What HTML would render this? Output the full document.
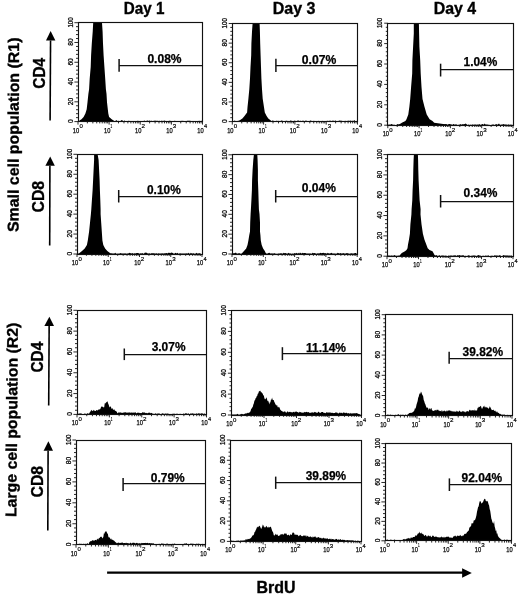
<!DOCTYPE html>
<html><head><meta charset="utf-8"><style>
html,body{margin:0;padding:0;background:#fff;}
svg{display:block;will-change:transform;}
text{font-family:"Liberation Sans",sans-serif;fill:#000;}
.hd,.cd,.pop{font-size:16px;font-weight:bold;stroke:#000;stroke-width:0.35;}
.pop{font-size:15.5px;}
.pct{font-size:12px;font-weight:bold;stroke:#000;stroke-width:0.25;}
.yl{font-size:6.3px;fill:#000;stroke:#000;stroke-width:0.25;}
.xl{font-size:7.2px;fill:#000;stroke:#000;stroke-width:0.25;}
.xs{font-size:6px;fill:#000;stroke:#000;stroke-width:0.2;}
.box{fill:none;stroke:#111;stroke-width:1.15;}
.base{fill:none;stroke:#000;stroke-width:0.6;}
.tk{fill:none;stroke:#111;stroke-width:0.9;}
.gate{fill:none;stroke:#111;stroke-width:1.25;}
.gtk{fill:none;stroke:#111;stroke-width:1.5;}
.h{fill:#000;stroke:none;}
.ar{stroke:#000;stroke-width:1.6;fill:none;}
.ar2{stroke:#000;stroke-width:2.2;fill:none;}
.ah{fill:#000;}
</style></head><body>
<svg width="520" height="597" viewBox="0 0 520 597">
<polygon class="h" points="79.00,121.60 79.00,121.60 79.50,120.60 81.50,119.20 83.60,117.00 85.40,113.50 86.70,109.20 87.50,102.30 88.40,93.70 89.10,89.20 89.70,78.60 90.70,66.90 91.10,55.20 91.80,43.40 92.70,31.70 93.20,22.70 102.00,22.70 102.60,31.70 103.00,43.40 103.60,55.20 104.40,66.90 105.20,78.60 105.90,89.20 106.50,93.70 107.00,102.30 107.80,109.20 108.30,113.50 109.10,117.00 111.70,119.20 113.50,120.60 114.00,121.60 114.00,121.60"/>
<polygon class="h" points="78.50,121.60 78.50,120.90 79.40,121.30 80.30,121.10 81.20,121.30 82.10,120.70 83.00,121.20 83.90,120.70 84.80,121.20 85.70,121.10 86.60,121.30 87.50,121.20 88.40,120.70 89.30,120.90 90.20,120.90 91.10,120.40 92.00,120.90 92.90,120.70 93.80,121.10 94.70,120.70 95.60,121.20 96.50,120.80 97.40,120.80 98.30,120.70 99.20,120.70 100.10,120.40 101.00,121.00 101.90,120.40 102.80,121.10 103.70,121.20 104.60,121.00 105.50,120.80 106.40,121.10 107.30,121.00 108.20,121.00 109.10,120.80 110.00,121.10 110.90,120.80 111.80,121.10 112.70,120.40 113.60,120.80 114.50,121.20 115.40,121.00 116.30,120.00 117.20,121.10 118.10,120.70 119.00,120.90 119.90,121.20 120.80,120.80 121.70,120.00 122.60,120.40 123.50,121.20 124.40,120.40 125.30,121.00 126.20,121.20 127.10,120.90 128.00,120.90 128.90,120.70 129.80,120.90 130.70,121.30 131.60,121.00 132.50,121.00 133.40,121.30 134.30,121.20 135.20,121.20 136.10,121.20 137.00,121.10 137.90,120.80 138.80,121.00 139.70,121.10 140.60,120.90 141.50,121.00 142.40,121.10 143.30,121.20 144.20,120.40 145.10,121.00 146.00,121.10 146.90,120.80 147.80,120.40 148.70,121.10 149.60,120.40 150.50,120.90 151.40,120.70 152.30,121.00 153.20,121.30 154.10,120.40 155.00,121.10 155.90,120.40 156.80,120.90 157.70,120.70 158.60,121.00 159.50,120.70 160.40,121.20 161.30,120.70 162.20,120.80 163.10,121.30 164.00,120.40 164.90,120.70 165.80,121.00 166.70,121.00 167.60,121.00 168.50,121.10 169.40,120.70 170.30,120.80 171.20,121.30 172.10,121.00 173.00,121.10 173.90,121.10 174.80,120.70 175.70,120.90 176.60,121.00 177.50,121.20 178.40,121.10 179.30,120.90 180.20,121.30 181.10,120.80 182.00,120.90 182.90,120.80 183.80,121.00 184.70,120.90 185.60,121.10 186.50,120.90 187.40,120.70 188.30,120.70 189.20,120.70 190.10,120.70 191.00,121.00 191.90,121.20 192.80,121.30 193.70,121.00 194.60,121.20 195.50,120.90 196.40,121.30 197.30,120.90 198.20,120.90 199.10,120.80 200.00,121.10 200.90,121.00 201.80,120.80 202.00,121.60"/>
<rect class="box" x="78.50" y="22.50" width="124.00" height="99.00"/>
<path class="tk" d="M74.40 121.60H78.00M76.00 117.64H78.00M76.00 113.69H78.00M76.00 109.73H78.00M76.00 105.78H78.00M74.40 101.82H78.00M76.00 97.86H78.00M76.00 93.91H78.00M76.00 89.95H78.00M76.00 86.00H78.00M74.40 82.04H78.00M76.00 78.08H78.00M76.00 74.13H78.00M76.00 70.17H78.00M76.00 66.22H78.00M74.40 62.26H78.00M76.00 58.30H78.00M76.00 54.35H78.00M76.00 50.39H78.00M76.00 46.44H78.00M74.40 42.48H78.00M76.00 38.52H78.00M76.00 34.57H78.00M76.00 30.61H78.00M76.00 26.66H78.00M74.40 22.70H78.00M78.00 121.60V124.60M87.37 121.60V123.40M92.85 121.60V123.40M96.74 121.60V123.40M99.76 121.60V123.40M102.22 121.60V123.40M104.30 121.60V123.40M106.11 121.60V123.40M107.70 121.60V123.40M109.12 121.60V124.60M118.49 121.60V123.40M123.98 121.60V123.40M127.86 121.60V123.40M130.88 121.60V123.40M133.34 121.60V123.40M135.43 121.60V123.40M137.23 121.60V123.40M138.83 121.60V123.40M140.25 121.60V124.60M149.62 121.60V123.40M155.10 121.60V123.40M158.99 121.60V123.40M162.01 121.60V123.40M164.47 121.60V123.40M166.55 121.60V123.40M168.36 121.60V123.40M169.95 121.60V123.40M171.38 121.60V124.60M180.74 121.60V123.40M186.23 121.60V123.40M190.11 121.60V123.40M193.13 121.60V123.40M195.59 121.60V123.40M197.68 121.60V123.40M199.48 121.60V123.40M201.08 121.60V123.40M202.50 121.60V124.60"/>
<text class="yl" transform="translate(72.50 123.07) rotate(-90.00)" textLength="3.71" lengthAdjust="spacingAndGlyphs">0</text><text class="yl" transform="translate(72.50 105.15) rotate(-90.00)" textLength="7.42" lengthAdjust="spacingAndGlyphs">20</text><text class="yl" transform="translate(72.50 85.17) rotate(-90.00)" textLength="7.20" lengthAdjust="spacingAndGlyphs">40</text><text class="yl" transform="translate(72.50 65.59) rotate(-90.00)" textLength="7.42" lengthAdjust="spacingAndGlyphs">60</text><text class="yl" transform="translate(72.50 45.74) rotate(-90.00)" textLength="7.34" lengthAdjust="spacingAndGlyphs">80</text><text class="yl" transform="translate(72.50 27.60) rotate(-90.00)" textLength="10.33" lengthAdjust="spacingAndGlyphs">100</text>
<text class="xl" x="72.84" y="132.60" textLength="6.40" lengthAdjust="spacingAndGlyphs">10</text><text class="xs" x="79.46" y="128.20" textLength="3.36" lengthAdjust="spacingAndGlyphs">0</text><text class="xl" x="103.96" y="132.60" textLength="6.40" lengthAdjust="spacingAndGlyphs">10</text><text class="xs" x="110.58" y="128.20" textLength="1.68" lengthAdjust="spacingAndGlyphs">1</text><text class="xl" x="135.09" y="132.60" textLength="6.40" lengthAdjust="spacingAndGlyphs">10</text><text class="xs" x="141.63" y="128.20" textLength="3.51" lengthAdjust="spacingAndGlyphs">2</text><text class="xl" x="166.21" y="132.60" textLength="6.40" lengthAdjust="spacingAndGlyphs">10</text><text class="xs" x="172.83" y="128.20" textLength="3.43" lengthAdjust="spacingAndGlyphs">3</text><text class="xl" x="197.34" y="132.60" textLength="6.40" lengthAdjust="spacingAndGlyphs">10</text><text class="xs" x="204.09" y="128.20" textLength="3.16" lengthAdjust="spacingAndGlyphs">4</text>
<path class="gate" d="M119.10 65.50H202.50"/><path class="gtk" d="M119.10 59.00V71.70"/>
<polygon class="h" points="238.00,121.60 238.00,121.60 239.80,120.30 242.40,118.50 244.50,116.00 247.10,112.50 247.50,107.30 248.40,98.70 249.30,89.20 250.00,78.60 250.50,66.90 251.20,55.20 251.40,43.40 252.00,31.70 252.60,23.50 259.60,23.50 259.90,31.70 260.20,43.40 260.60,55.20 261.00,66.90 261.40,78.60 262.00,89.20 262.70,98.70 264.00,107.30 264.80,112.50 266.60,116.00 268.30,118.50 270.50,120.30 272.00,121.60 272.00,121.60"/>
<polygon class="h" points="232.80,121.60 232.80,121.10 233.70,121.30 234.60,120.40 235.50,121.10 236.40,121.30 237.30,121.10 238.20,120.70 239.10,120.80 240.00,120.80 240.90,120.70 241.80,120.40 242.70,120.70 243.60,120.90 244.50,121.20 245.40,121.10 246.30,121.20 247.20,120.40 248.10,120.90 249.00,121.00 249.90,120.90 250.80,120.70 251.70,121.10 252.60,120.80 253.50,120.70 254.40,121.20 255.30,121.20 256.20,120.70 257.10,121.10 258.00,121.30 258.90,120.80 259.80,121.30 260.70,120.40 261.60,121.10 262.50,120.70 263.40,121.10 264.30,120.40 265.20,120.90 266.10,120.90 267.00,120.40 267.90,120.80 268.80,121.10 269.70,120.90 270.60,121.10 271.50,121.30 272.40,120.40 273.30,120.70 274.20,121.10 275.10,121.00 276.00,121.20 276.90,120.40 277.80,121.30 278.70,120.70 279.60,120.90 280.50,120.90 281.40,120.40 282.30,120.70 283.20,120.90 284.10,121.30 285.00,121.30 285.90,120.70 286.80,120.70 287.70,121.10 288.60,121.20 289.50,121.20 290.40,120.40 291.30,120.70 292.20,120.90 293.10,121.00 294.00,120.90 294.90,120.40 295.80,121.30 296.70,121.20 297.60,120.40 298.50,120.40 299.40,120.90 300.30,120.80 301.20,121.00 302.10,121.00 303.00,120.40 303.90,120.90 304.80,121.20 305.70,120.40 306.60,120.70 307.50,121.30 308.40,121.10 309.30,121.30 310.20,120.40 311.10,120.70 312.00,120.90 312.90,121.20 313.80,120.80 314.70,120.90 315.60,121.20 316.50,120.90 317.40,121.30 318.30,120.70 319.20,121.30 320.10,121.00 321.00,121.20 321.90,121.30 322.80,120.70 323.70,121.30 324.60,121.10 325.50,121.10 326.40,121.10 327.30,120.80 328.20,121.10 329.10,120.70 330.00,120.70 330.90,120.80 331.80,121.20 332.70,120.40 333.60,120.70 334.50,120.90 335.40,120.40 336.30,120.90 337.20,121.30 338.10,121.10 339.00,120.80 339.90,120.40 340.80,120.80 341.70,120.70 342.60,121.10 343.50,121.30 344.40,121.10 345.30,120.80 346.20,121.20 347.10,120.70 348.00,121.10 348.90,120.40 349.80,120.90 350.70,120.40 351.60,121.00 352.50,120.80 353.40,120.90 354.30,120.00 355.20,121.20 356.10,120.90 357.00,121.20 357.00,121.60"/>
<rect class="box" x="232.50" y="23.50" width="125.00" height="98.00"/>
<path class="tk" d="M228.70 121.60H232.30M230.30 117.68H232.30M230.30 113.75H232.30M230.30 109.83H232.30M230.30 105.90H232.30M228.70 101.98H232.30M230.30 98.06H232.30M230.30 94.13H232.30M230.30 90.21H232.30M230.30 86.28H232.30M228.70 82.36H232.30M230.30 78.44H232.30M230.30 74.51H232.30M230.30 70.59H232.30M230.30 66.66H232.30M228.70 62.74H232.30M230.30 58.82H232.30M230.30 54.89H232.30M230.30 50.97H232.30M230.30 47.04H232.30M228.70 43.12H232.30M230.30 39.20H232.30M230.30 35.27H232.30M230.30 31.35H232.30M230.30 27.42H232.30M228.70 23.50H232.30M232.30 121.60V124.60M241.72 121.60V123.40M247.23 121.60V123.40M251.14 121.60V123.40M254.18 121.60V123.40M256.66 121.60V123.40M258.75 121.60V123.40M260.57 121.60V123.40M262.17 121.60V123.40M263.60 121.60V124.60M273.02 121.60V123.40M278.53 121.60V123.40M282.44 121.60V123.40M285.48 121.60V123.40M287.96 121.60V123.40M290.05 121.60V123.40M291.87 121.60V123.40M293.47 121.60V123.40M294.90 121.60V124.60M304.32 121.60V123.40M309.83 121.60V123.40M313.74 121.60V123.40M316.78 121.60V123.40M319.26 121.60V123.40M321.35 121.60V123.40M323.17 121.60V123.40M324.77 121.60V123.40M326.20 121.60V124.60M335.62 121.60V123.40M341.13 121.60V123.40M345.04 121.60V123.40M348.08 121.60V123.40M350.56 121.60V123.40M352.65 121.60V123.40M354.47 121.60V123.40M356.07 121.60V123.40M357.50 121.60V124.60"/>
<text class="yl" transform="translate(226.80 123.07) rotate(-90.00)" textLength="3.71" lengthAdjust="spacingAndGlyphs">0</text><text class="yl" transform="translate(226.80 105.31) rotate(-90.00)" textLength="7.42" lengthAdjust="spacingAndGlyphs">20</text><text class="yl" transform="translate(226.80 85.49) rotate(-90.00)" textLength="7.20" lengthAdjust="spacingAndGlyphs">40</text><text class="yl" transform="translate(226.80 66.07) rotate(-90.00)" textLength="7.42" lengthAdjust="spacingAndGlyphs">60</text><text class="yl" transform="translate(226.80 46.38) rotate(-90.00)" textLength="7.34" lengthAdjust="spacingAndGlyphs">80</text><text class="yl" transform="translate(226.80 28.40) rotate(-90.00)" textLength="10.33" lengthAdjust="spacingAndGlyphs">100</text>
<text class="xl" x="227.14" y="132.60" textLength="6.40" lengthAdjust="spacingAndGlyphs">10</text><text class="xs" x="233.76" y="128.20" textLength="3.36" lengthAdjust="spacingAndGlyphs">0</text><text class="xl" x="258.44" y="132.60" textLength="6.40" lengthAdjust="spacingAndGlyphs">10</text><text class="xs" x="265.06" y="128.20" textLength="1.68" lengthAdjust="spacingAndGlyphs">1</text><text class="xl" x="289.74" y="132.60" textLength="6.40" lengthAdjust="spacingAndGlyphs">10</text><text class="xs" x="296.28" y="128.20" textLength="3.51" lengthAdjust="spacingAndGlyphs">2</text><text class="xl" x="321.04" y="132.60" textLength="6.40" lengthAdjust="spacingAndGlyphs">10</text><text class="xs" x="327.65" y="128.20" textLength="3.43" lengthAdjust="spacingAndGlyphs">3</text><text class="xl" x="352.34" y="132.60" textLength="6.40" lengthAdjust="spacingAndGlyphs">10</text><text class="xs" x="359.09" y="128.20" textLength="3.16" lengthAdjust="spacingAndGlyphs">4</text>
<path class="gate" d="M275.90 65.50H357.50"/><path class="gtk" d="M275.90 58.75V72.00"/>
<polygon class="h" points="399.00,125.20 399.00,125.20 399.50,124.20 401.90,122.70 405.40,121.00 406.50,119.20 408.30,114.60 409.40,106.50 410.20,99.10 411.10,87.00 412.20,73.60 412.40,60.20 413.10,46.80 413.80,33.40 413.80,23.20 418.90,23.20 419.10,33.40 419.40,46.80 420.20,60.20 420.70,73.60 421.50,87.00 422.50,99.10 424.40,106.50 426.70,114.60 429.60,119.20 432.50,121.00 434.20,122.70 445.00,124.20 450.00,125.20 450.00,125.20"/>
<polygon class="h" points="388.30,125.20 388.30,124.60 389.20,124.60 390.10,124.70 391.00,124.30 391.90,124.00 392.80,124.70 393.70,124.70 394.60,124.80 395.50,124.90 396.40,124.90 397.30,124.00 398.20,124.50 399.10,124.00 400.00,124.60 400.90,124.60 401.80,124.80 402.70,124.80 403.60,124.30 404.50,124.90 405.40,124.80 406.30,124.50 407.20,124.00 408.10,124.50 409.00,124.80 409.90,124.00 410.80,124.00 411.70,124.30 412.60,124.80 413.50,124.50 414.40,123.60 415.30,124.40 416.20,124.40 417.10,124.30 418.00,124.50 418.90,124.70 419.80,124.60 420.70,124.30 421.60,124.80 422.50,124.30 423.40,124.60 424.30,124.40 425.20,124.60 426.10,124.30 427.00,124.30 427.90,124.40 428.80,124.00 429.70,124.90 430.60,124.80 431.50,124.40 432.40,124.40 433.30,124.80 434.20,124.40 435.10,124.30 436.00,124.30 436.90,124.70 437.80,124.40 438.70,124.90 439.60,124.50 440.50,124.90 441.40,124.00 442.30,124.00 443.20,124.80 444.10,124.70 445.00,124.00 445.90,124.30 446.80,124.30 447.70,124.90 448.60,124.00 449.50,124.00 450.40,124.30 451.30,124.30 452.20,124.90 453.10,124.00 454.00,124.30 454.90,124.80 455.80,124.30 456.70,124.60 457.60,124.90 458.50,124.80 459.40,124.80 460.30,124.00 461.20,124.70 462.10,124.30 463.00,124.30 463.90,124.30 464.80,124.00 465.70,123.60 466.60,124.30 467.50,124.90 468.40,124.50 469.30,124.90 470.20,124.50 471.10,124.90 472.00,124.40 472.90,124.60 473.80,124.70 474.70,124.60 475.60,124.40 476.50,124.80 477.40,124.60 478.30,124.70 479.20,124.00 480.10,124.80 481.00,124.70 481.90,124.30 482.80,124.00 483.70,124.80 484.60,123.60 485.50,124.40 486.40,124.60 487.30,124.40 488.20,124.80 489.10,124.80 490.00,124.90 490.90,124.90 491.80,124.70 492.70,124.60 493.60,124.60 494.50,124.90 495.40,124.60 496.30,124.00 497.20,124.70 498.10,124.30 499.00,123.60 499.90,124.80 500.80,124.80 501.70,124.50 502.60,124.50 503.50,124.00 504.40,124.50 505.30,124.60 506.20,124.40 507.10,124.70 508.00,124.80 508.90,124.30 509.80,124.90 510.70,124.60 511.60,124.80 512.50,124.70 512.50,125.20"/>
<rect class="box" x="387.50" y="23.50" width="126.00" height="102.00"/>
<path class="tk" d="M384.20 125.20H387.80M385.80 121.12H387.80M385.80 117.04H387.80M385.80 112.96H387.80M385.80 108.88H387.80M384.20 104.80H387.80M385.80 100.72H387.80M385.80 96.64H387.80M385.80 92.56H387.80M385.80 88.48H387.80M384.20 84.40H387.80M385.80 80.32H387.80M385.80 76.24H387.80M385.80 72.16H387.80M385.80 68.08H387.80M384.20 64.00H387.80M385.80 59.92H387.80M385.80 55.84H387.80M385.80 51.76H387.80M385.80 47.68H387.80M384.20 43.60H387.80M385.80 39.52H387.80M385.80 35.44H387.80M385.80 31.36H387.80M385.80 27.28H387.80M384.20 23.20H387.80M387.80 125.20V128.20M397.22 125.20V127.00M402.73 125.20V127.00M406.64 125.20V127.00M409.68 125.20V127.00M412.16 125.20V127.00M414.25 125.20V127.00M416.07 125.20V127.00M417.67 125.20V127.00M419.10 125.20V128.20M428.52 125.20V127.00M434.03 125.20V127.00M437.94 125.20V127.00M440.98 125.20V127.00M443.46 125.20V127.00M445.55 125.20V127.00M447.37 125.20V127.00M448.97 125.20V127.00M450.40 125.20V128.20M459.82 125.20V127.00M465.33 125.20V127.00M469.24 125.20V127.00M472.28 125.20V127.00M474.76 125.20V127.00M476.85 125.20V127.00M478.67 125.20V127.00M480.27 125.20V127.00M481.70 125.20V128.20M491.12 125.20V127.00M496.63 125.20V127.00M500.54 125.20V127.00M503.58 125.20V127.00M506.06 125.20V127.00M508.15 125.20V127.00M509.97 125.20V127.00M511.57 125.20V127.00M513.00 125.20V128.20"/>
<text class="yl" transform="translate(382.30 126.67) rotate(-90.00)" textLength="3.71" lengthAdjust="spacingAndGlyphs">0</text><text class="yl" transform="translate(382.30 108.13) rotate(-90.00)" textLength="7.42" lengthAdjust="spacingAndGlyphs">20</text><text class="yl" transform="translate(382.30 87.53) rotate(-90.00)" textLength="7.20" lengthAdjust="spacingAndGlyphs">40</text><text class="yl" transform="translate(382.30 67.33) rotate(-90.00)" textLength="7.42" lengthAdjust="spacingAndGlyphs">60</text><text class="yl" transform="translate(382.30 46.86) rotate(-90.00)" textLength="7.34" lengthAdjust="spacingAndGlyphs">80</text><text class="yl" transform="translate(382.30 28.10) rotate(-90.00)" textLength="10.33" lengthAdjust="spacingAndGlyphs">100</text>
<text class="xl" x="382.64" y="136.20" textLength="6.40" lengthAdjust="spacingAndGlyphs">10</text><text class="xs" x="389.26" y="131.80" textLength="3.36" lengthAdjust="spacingAndGlyphs">0</text><text class="xl" x="413.94" y="136.20" textLength="6.40" lengthAdjust="spacingAndGlyphs">10</text><text class="xs" x="420.56" y="131.80" textLength="1.68" lengthAdjust="spacingAndGlyphs">1</text><text class="xl" x="445.24" y="136.20" textLength="6.40" lengthAdjust="spacingAndGlyphs">10</text><text class="xs" x="451.78" y="131.80" textLength="3.51" lengthAdjust="spacingAndGlyphs">2</text><text class="xl" x="476.54" y="136.20" textLength="6.40" lengthAdjust="spacingAndGlyphs">10</text><text class="xs" x="483.15" y="131.80" textLength="3.43" lengthAdjust="spacingAndGlyphs">3</text><text class="xl" x="507.84" y="136.20" textLength="6.40" lengthAdjust="spacingAndGlyphs">10</text><text class="xs" x="514.59" y="131.80" textLength="3.16" lengthAdjust="spacingAndGlyphs">4</text>
<path class="gate" d="M440.60 69.50H513.00"/><path class="gtk" d="M440.60 63.70V76.50"/>
<polygon class="h" points="79.00,254.00 79.00,254.00 79.50,253.00 82.00,251.10 84.70,248.50 86.90,244.90 87.80,240.50 89.10,231.60 90.00,222.70 90.90,213.90 91.30,209.30 91.90,200.30 92.60,190.20 93.10,180.20 93.60,170.10 94.10,160.00 94.10,154.30 97.60,154.30 98.60,160.00 99.10,170.10 99.60,180.20 99.90,190.20 100.30,200.30 100.60,209.30 100.60,213.90 101.20,222.70 101.80,231.60 102.40,240.50 103.30,244.90 105.10,248.50 107.30,251.10 110.00,253.00 111.00,254.00 111.00,254.00"/>
<polygon class="h" points="77.50,254.00 77.50,253.50 78.40,253.60 79.30,253.20 80.20,253.30 81.10,253.10 82.00,253.50 82.90,252.80 83.80,252.80 84.70,252.80 85.60,253.10 86.50,253.10 87.40,253.10 88.30,253.60 89.20,253.10 90.10,253.10 91.00,253.50 91.90,253.70 92.80,252.40 93.70,253.10 94.60,253.40 95.50,252.80 96.40,253.70 97.30,253.10 98.20,253.40 99.10,253.30 100.00,252.80 100.90,253.70 101.80,253.40 102.70,253.40 103.60,253.70 104.50,252.80 105.40,253.10 106.30,253.40 107.20,253.40 108.10,252.80 109.00,253.70 109.90,253.20 110.80,253.50 111.70,253.30 112.60,253.50 113.50,253.60 114.40,253.60 115.30,252.80 116.20,253.70 117.10,253.40 118.00,253.70 118.90,253.40 119.80,253.60 120.70,253.10 121.60,253.60 122.50,253.60 123.40,253.50 124.30,253.40 125.20,253.30 126.10,253.70 127.00,253.60 127.90,253.40 128.80,253.30 129.70,252.80 130.60,253.30 131.50,253.50 132.40,253.10 133.30,253.70 134.20,253.20 135.10,253.60 136.00,253.30 136.90,253.10 137.80,253.10 138.70,253.30 139.60,253.70 140.50,253.30 141.40,253.50 142.30,253.10 143.20,253.70 144.10,253.40 145.00,252.40 145.90,252.80 146.80,252.80 147.70,253.60 148.60,253.40 149.50,253.20 150.40,253.70 151.30,253.20 152.20,253.20 153.10,253.20 154.00,253.20 154.90,253.50 155.80,253.60 156.70,253.20 157.60,253.70 158.50,253.30 159.40,253.40 160.30,253.50 161.20,253.60 162.10,253.30 163.00,253.50 163.90,253.50 164.80,253.20 165.70,253.30 166.60,253.10 167.50,253.40 168.40,252.80 169.30,252.80 170.20,253.20 171.10,252.40 172.00,252.80 172.90,253.10 173.80,253.70 174.70,253.60 175.60,252.80 176.50,253.60 177.40,252.80 178.30,253.70 179.20,253.40 180.10,253.20 181.00,253.50 181.90,253.60 182.80,253.40 183.70,253.40 184.60,253.40 185.50,253.50 186.40,253.30 187.30,253.70 188.20,252.80 189.10,253.40 190.00,253.70 190.90,252.80 191.80,253.60 192.70,253.40 193.60,253.30 194.50,253.70 195.40,253.70 196.30,252.80 197.20,253.40 198.10,253.60 199.00,253.30 199.90,253.20 200.80,253.70 201.50,254.00"/>
<rect class="box" x="77.50" y="154.50" width="125.00" height="100.00"/>
<path class="tk" d="M73.40 254.00H77.00M75.00 250.01H77.00M75.00 246.02H77.00M75.00 242.04H77.00M75.00 238.05H77.00M73.40 234.06H77.00M75.00 230.07H77.00M75.00 226.08H77.00M75.00 222.10H77.00M75.00 218.11H77.00M73.40 214.12H77.00M75.00 210.13H77.00M75.00 206.14H77.00M75.00 202.16H77.00M75.00 198.17H77.00M73.40 194.18H77.00M75.00 190.19H77.00M75.00 186.20H77.00M75.00 182.22H77.00M75.00 178.23H77.00M73.40 174.24H77.00M75.00 170.25H77.00M75.00 166.26H77.00M75.00 162.28H77.00M75.00 158.29H77.00M73.40 154.30H77.00M77.00 254.00V257.00M86.41 254.00V255.80M91.91 254.00V255.80M95.81 254.00V255.80M98.84 254.00V255.80M101.32 254.00V255.80M103.41 254.00V255.80M105.22 254.00V255.80M106.82 254.00V255.80M108.25 254.00V257.00M117.66 254.00V255.80M123.16 254.00V255.80M127.06 254.00V255.80M130.09 254.00V255.80M132.57 254.00V255.80M134.66 254.00V255.80M136.47 254.00V255.80M138.07 254.00V255.80M139.50 254.00V257.00M148.91 254.00V255.80M154.41 254.00V255.80M158.31 254.00V255.80M161.34 254.00V255.80M163.82 254.00V255.80M165.91 254.00V255.80M167.72 254.00V255.80M169.32 254.00V255.80M170.75 254.00V257.00M180.16 254.00V255.80M185.66 254.00V255.80M189.56 254.00V255.80M192.59 254.00V255.80M195.07 254.00V255.80M197.16 254.00V255.80M198.97 254.00V255.80M200.57 254.00V255.80M202.00 254.00V257.00"/>
<text class="yl" transform="translate(71.50 255.47) rotate(-90.00)" textLength="3.71" lengthAdjust="spacingAndGlyphs">0</text><text class="yl" transform="translate(71.50 237.39) rotate(-90.00)" textLength="7.42" lengthAdjust="spacingAndGlyphs">20</text><text class="yl" transform="translate(71.50 217.25) rotate(-90.00)" textLength="7.20" lengthAdjust="spacingAndGlyphs">40</text><text class="yl" transform="translate(71.50 197.51) rotate(-90.00)" textLength="7.42" lengthAdjust="spacingAndGlyphs">60</text><text class="yl" transform="translate(71.50 177.50) rotate(-90.00)" textLength="7.34" lengthAdjust="spacingAndGlyphs">80</text><text class="yl" transform="translate(71.50 159.20) rotate(-90.00)" textLength="10.33" lengthAdjust="spacingAndGlyphs">100</text>
<text class="xl" x="71.84" y="265.00" textLength="6.40" lengthAdjust="spacingAndGlyphs">10</text><text class="xs" x="78.46" y="260.60" textLength="3.36" lengthAdjust="spacingAndGlyphs">0</text><text class="xl" x="103.09" y="265.00" textLength="6.40" lengthAdjust="spacingAndGlyphs">10</text><text class="xs" x="109.71" y="260.60" textLength="1.68" lengthAdjust="spacingAndGlyphs">1</text><text class="xl" x="134.34" y="265.00" textLength="6.40" lengthAdjust="spacingAndGlyphs">10</text><text class="xs" x="140.88" y="260.60" textLength="3.51" lengthAdjust="spacingAndGlyphs">2</text><text class="xl" x="165.59" y="265.00" textLength="6.40" lengthAdjust="spacingAndGlyphs">10</text><text class="xs" x="172.20" y="260.60" textLength="3.43" lengthAdjust="spacingAndGlyphs">3</text><text class="xl" x="196.84" y="265.00" textLength="6.40" lengthAdjust="spacingAndGlyphs">10</text><text class="xs" x="203.59" y="260.60" textLength="3.16" lengthAdjust="spacingAndGlyphs">4</text>
<path class="gate" d="M118.70 196.50H202.00"/><path class="gtk" d="M118.70 190.00V202.50"/>
<polygon class="h" points="241.50,254.00 241.50,254.00 242.20,253.00 244.00,251.10 246.20,248.50 247.50,244.90 248.40,240.50 249.30,235.00 250.00,231.60 250.20,222.70 250.60,213.90 250.90,209.30 251.40,200.30 251.90,190.20 252.10,180.20 252.60,170.10 253.30,160.00 253.90,154.80 257.30,154.80 257.60,160.00 257.90,170.10 257.90,180.20 258.30,190.20 258.60,200.30 258.90,209.30 259.50,213.90 260.00,222.70 260.00,231.60 260.40,235.00 260.80,240.50 261.70,244.90 263.10,248.50 264.80,251.10 265.70,253.00 266.50,254.00 266.50,254.00"/>
<polygon class="h" points="232.50,254.00 232.50,253.10 233.40,253.20 234.30,253.30 235.20,252.80 236.10,252.80 237.00,253.70 237.90,253.40 238.80,253.20 239.70,253.20 240.60,253.70 241.50,253.70 242.40,253.10 243.30,253.50 244.20,253.10 245.10,253.10 246.00,253.60 246.90,253.30 247.80,253.50 248.70,253.70 249.60,253.20 250.50,253.70 251.40,253.60 252.30,253.20 253.20,252.40 254.10,253.50 255.00,253.70 255.90,252.80 256.80,252.80 257.70,253.60 258.60,252.80 259.50,253.10 260.40,253.70 261.30,253.10 262.20,253.10 263.10,253.40 264.00,253.60 264.90,253.10 265.80,253.20 266.70,253.70 267.60,253.60 268.50,253.10 269.40,252.80 270.30,253.60 271.20,253.50 272.10,253.30 273.00,253.70 273.90,253.30 274.80,253.30 275.70,253.70 276.60,253.70 277.50,253.70 278.40,253.40 279.30,253.50 280.20,253.60 281.10,253.10 282.00,253.70 282.90,253.50 283.80,252.80 284.70,253.30 285.60,253.10 286.50,253.40 287.40,253.70 288.30,252.80 289.20,253.40 290.10,253.20 291.00,253.70 291.90,253.70 292.80,253.50 293.70,253.70 294.60,253.10 295.50,253.50 296.40,252.80 297.30,253.70 298.20,252.80 299.10,253.70 300.00,252.40 300.90,253.30 301.80,253.40 302.70,252.80 303.60,253.30 304.50,253.10 305.40,253.10 306.30,253.50 307.20,253.50 308.10,253.50 309.00,253.40 309.90,253.60 310.80,253.50 311.70,253.70 312.60,252.80 313.50,253.30 314.40,253.10 315.30,253.30 316.20,253.70 317.10,253.40 318.00,253.20 318.90,253.40 319.80,253.20 320.70,252.80 321.60,253.30 322.50,253.10 323.40,252.80 324.30,253.30 325.20,253.10 326.10,253.40 327.00,253.40 327.90,252.80 328.80,253.50 329.70,253.50 330.60,253.30 331.50,252.80 332.40,253.60 333.30,253.50 334.20,253.50 335.10,253.60 336.00,253.70 336.90,253.60 337.80,252.80 338.70,253.30 339.60,253.60 340.50,253.10 341.40,253.60 342.30,253.60 343.20,253.10 344.10,253.50 345.00,253.40 345.90,253.50 346.80,253.10 347.70,253.30 348.60,253.60 349.50,253.70 350.40,253.60 351.30,253.30 352.20,253.40 353.10,253.60 354.00,253.50 354.90,253.10 355.80,253.10 356.70,253.50 356.70,254.00"/>
<rect class="box" x="232.50" y="154.50" width="125.00" height="100.00"/>
<path class="tk" d="M228.40 254.00H232.00M230.00 250.03H232.00M230.00 246.06H232.00M230.00 242.10H232.00M230.00 238.13H232.00M228.40 234.16H232.00M230.00 230.19H232.00M230.00 226.22H232.00M230.00 222.26H232.00M230.00 218.29H232.00M228.40 214.32H232.00M230.00 210.35H232.00M230.00 206.38H232.00M230.00 202.42H232.00M230.00 198.45H232.00M228.40 194.48H232.00M230.00 190.51H232.00M230.00 186.54H232.00M230.00 182.58H232.00M230.00 178.61H232.00M228.40 174.64H232.00M230.00 170.67H232.00M230.00 166.70H232.00M230.00 162.74H232.00M230.00 158.77H232.00M228.40 154.80H232.00M232.00 254.00V257.00M241.42 254.00V255.80M246.93 254.00V255.80M250.84 254.00V255.80M253.88 254.00V255.80M256.36 254.00V255.80M258.45 254.00V255.80M260.27 254.00V255.80M261.87 254.00V255.80M263.30 254.00V257.00M272.72 254.00V255.80M278.23 254.00V255.80M282.14 254.00V255.80M285.18 254.00V255.80M287.66 254.00V255.80M289.75 254.00V255.80M291.57 254.00V255.80M293.17 254.00V255.80M294.60 254.00V257.00M304.02 254.00V255.80M309.53 254.00V255.80M313.44 254.00V255.80M316.48 254.00V255.80M318.96 254.00V255.80M321.05 254.00V255.80M322.87 254.00V255.80M324.47 254.00V255.80M325.90 254.00V257.00M335.32 254.00V255.80M340.83 254.00V255.80M344.74 254.00V255.80M347.78 254.00V255.80M350.26 254.00V255.80M352.35 254.00V255.80M354.17 254.00V255.80M355.77 254.00V255.80M357.20 254.00V257.00"/>
<text class="yl" transform="translate(226.50 255.47) rotate(-90.00)" textLength="3.71" lengthAdjust="spacingAndGlyphs">0</text><text class="yl" transform="translate(226.50 237.49) rotate(-90.00)" textLength="7.42" lengthAdjust="spacingAndGlyphs">20</text><text class="yl" transform="translate(226.50 217.45) rotate(-90.00)" textLength="7.20" lengthAdjust="spacingAndGlyphs">40</text><text class="yl" transform="translate(226.50 197.81) rotate(-90.00)" textLength="7.42" lengthAdjust="spacingAndGlyphs">60</text><text class="yl" transform="translate(226.50 177.90) rotate(-90.00)" textLength="7.34" lengthAdjust="spacingAndGlyphs">80</text><text class="yl" transform="translate(226.50 159.70) rotate(-90.00)" textLength="10.33" lengthAdjust="spacingAndGlyphs">100</text>
<text class="xl" x="226.84" y="265.00" textLength="6.40" lengthAdjust="spacingAndGlyphs">10</text><text class="xs" x="233.46" y="260.60" textLength="3.36" lengthAdjust="spacingAndGlyphs">0</text><text class="xl" x="258.14" y="265.00" textLength="6.40" lengthAdjust="spacingAndGlyphs">10</text><text class="xs" x="264.76" y="260.60" textLength="1.68" lengthAdjust="spacingAndGlyphs">1</text><text class="xl" x="289.44" y="265.00" textLength="6.40" lengthAdjust="spacingAndGlyphs">10</text><text class="xs" x="295.98" y="260.60" textLength="3.51" lengthAdjust="spacingAndGlyphs">2</text><text class="xl" x="320.74" y="265.00" textLength="6.40" lengthAdjust="spacingAndGlyphs">10</text><text class="xs" x="327.35" y="260.60" textLength="3.43" lengthAdjust="spacingAndGlyphs">3</text><text class="xl" x="352.04" y="265.00" textLength="6.40" lengthAdjust="spacingAndGlyphs">10</text><text class="xs" x="358.79" y="260.60" textLength="3.16" lengthAdjust="spacingAndGlyphs">4</text>
<path class="gate" d="M275.70 196.50H357.20"/><path class="gtk" d="M275.70 190.00V202.50"/>
<polygon class="h" points="399.00,256.20 399.00,256.20 400.00,255.00 401.80,253.10 405.00,251.20 406.50,250.00 407.50,248.30 408.00,244.40 409.00,239.60 409.90,233.80 410.40,224.20 411.40,214.60 411.60,209.30 412.30,200.30 412.60,190.20 413.10,180.20 413.30,170.10 413.60,160.00 413.90,154.60 417.90,154.60 418.10,160.00 418.30,170.10 418.60,180.20 419.10,190.20 419.60,200.30 420.60,209.30 420.50,214.60 421.50,224.20 422.90,233.80 424.40,239.60 426.30,244.40 427.70,248.30 429.50,250.00 432.50,251.20 433.50,253.10 434.50,255.00 436.00,256.20 436.00,256.20"/>
<polygon class="h" points="387.50,256.20 387.50,255.40 388.40,255.40 389.30,255.60 390.20,255.80 391.10,255.40 392.00,255.50 392.90,255.70 393.80,255.60 394.70,255.00 395.60,255.80 396.50,255.70 397.40,255.80 398.30,255.60 399.20,255.70 400.10,255.80 401.00,255.30 401.90,255.80 402.80,255.50 403.70,255.70 404.60,255.30 405.50,255.30 406.40,255.50 407.30,255.80 408.20,255.00 409.10,255.50 410.00,255.40 410.90,255.30 411.80,255.80 412.70,255.80 413.60,255.40 414.50,255.00 415.40,255.00 416.30,255.40 417.20,255.70 418.10,255.60 419.00,255.00 419.90,255.90 420.80,255.60 421.70,255.50 422.60,255.60 423.50,255.90 424.40,255.30 425.30,255.00 426.20,255.70 427.10,255.30 428.00,255.40 428.90,255.50 429.80,255.80 430.70,255.50 431.60,255.70 432.50,255.00 433.40,255.30 434.30,255.40 435.20,255.70 436.10,255.00 437.00,255.50 437.90,255.90 438.80,255.50 439.70,255.30 440.60,255.90 441.50,255.60 442.40,255.40 443.30,255.40 444.20,255.80 445.10,255.70 446.00,255.60 446.90,255.90 447.80,255.90 448.70,255.60 449.60,255.70 450.50,255.40 451.40,255.50 452.30,255.80 453.20,255.60 454.10,255.60 455.00,255.30 455.90,255.60 456.80,255.90 457.70,255.00 458.60,255.40 459.50,255.00 460.40,255.60 461.30,255.40 462.20,255.60 463.10,255.00 464.00,255.70 464.90,255.90 465.80,255.80 466.70,255.90 467.60,255.70 468.50,255.30 469.40,255.40 470.30,255.90 471.20,255.80 472.10,255.70 473.00,255.40 473.90,255.50 474.80,255.50 475.70,255.80 476.60,255.90 477.50,255.50 478.40,255.00 479.30,255.50 480.20,255.60 481.10,255.90 482.00,255.90 482.90,255.80 483.80,255.80 484.70,255.90 485.60,255.50 486.50,255.80 487.40,255.70 488.30,255.30 489.20,255.90 490.10,255.90 491.00,255.70 491.90,255.70 492.80,255.70 493.70,255.90 494.60,255.30 495.50,255.50 496.40,255.60 497.30,255.50 498.20,255.70 499.10,255.40 500.00,255.00 500.90,255.90 501.80,255.90 502.70,255.70 503.60,255.00 504.50,255.50 505.40,255.40 506.30,255.60 507.20,255.40 508.10,255.50 509.00,255.70 509.90,255.50 510.80,255.80 511.70,255.40 512.50,256.20"/>
<rect class="box" x="387.50" y="154.50" width="126.00" height="102.00"/>
<path class="tk" d="M383.40 256.20H387.00M385.00 252.14H387.00M385.00 248.07H387.00M385.00 244.01H387.00M385.00 239.94H387.00M383.40 235.88H387.00M385.00 231.82H387.00M385.00 227.75H387.00M385.00 223.69H387.00M385.00 219.62H387.00M383.40 215.56H387.00M385.00 211.50H387.00M385.00 207.43H387.00M385.00 203.37H387.00M385.00 199.30H387.00M383.40 195.24H387.00M385.00 191.18H387.00M385.00 187.11H387.00M385.00 183.05H387.00M385.00 178.98H387.00M383.40 174.92H387.00M385.00 170.86H387.00M385.00 166.79H387.00M385.00 162.73H387.00M385.00 158.66H387.00M383.40 154.60H387.00M387.00 256.20V259.20M396.48 256.20V258.00M402.03 256.20V258.00M405.96 256.20V258.00M409.02 256.20V258.00M411.51 256.20V258.00M413.62 256.20V258.00M415.45 256.20V258.00M417.06 256.20V258.00M418.50 256.20V259.20M427.98 256.20V258.00M433.53 256.20V258.00M437.46 256.20V258.00M440.52 256.20V258.00M443.01 256.20V258.00M445.12 256.20V258.00M446.95 256.20V258.00M448.56 256.20V258.00M450.00 256.20V259.20M459.48 256.20V258.00M465.03 256.20V258.00M468.96 256.20V258.00M472.02 256.20V258.00M474.51 256.20V258.00M476.62 256.20V258.00M478.45 256.20V258.00M480.06 256.20V258.00M481.50 256.20V259.20M490.98 256.20V258.00M496.53 256.20V258.00M500.46 256.20V258.00M503.52 256.20V258.00M506.01 256.20V258.00M508.12 256.20V258.00M509.95 256.20V258.00M511.56 256.20V258.00M513.00 256.20V259.20"/>
<text class="yl" transform="translate(381.50 257.67) rotate(-90.00)" textLength="3.71" lengthAdjust="spacingAndGlyphs">0</text><text class="yl" transform="translate(381.50 239.21) rotate(-90.00)" textLength="7.42" lengthAdjust="spacingAndGlyphs">20</text><text class="yl" transform="translate(381.50 218.69) rotate(-90.00)" textLength="7.20" lengthAdjust="spacingAndGlyphs">40</text><text class="yl" transform="translate(381.50 198.57) rotate(-90.00)" textLength="7.42" lengthAdjust="spacingAndGlyphs">60</text><text class="yl" transform="translate(381.50 178.18) rotate(-90.00)" textLength="7.34" lengthAdjust="spacingAndGlyphs">80</text><text class="yl" transform="translate(381.50 159.50) rotate(-90.00)" textLength="10.33" lengthAdjust="spacingAndGlyphs">100</text>
<text class="xl" x="381.84" y="267.20" textLength="6.40" lengthAdjust="spacingAndGlyphs">10</text><text class="xs" x="388.46" y="262.80" textLength="3.36" lengthAdjust="spacingAndGlyphs">0</text><text class="xl" x="413.34" y="267.20" textLength="6.40" lengthAdjust="spacingAndGlyphs">10</text><text class="xs" x="419.96" y="262.80" textLength="1.68" lengthAdjust="spacingAndGlyphs">1</text><text class="xl" x="444.84" y="267.20" textLength="6.40" lengthAdjust="spacingAndGlyphs">10</text><text class="xs" x="451.38" y="262.80" textLength="3.51" lengthAdjust="spacingAndGlyphs">2</text><text class="xl" x="476.34" y="267.20" textLength="6.40" lengthAdjust="spacingAndGlyphs">10</text><text class="xs" x="482.95" y="262.80" textLength="3.43" lengthAdjust="spacingAndGlyphs">3</text><text class="xl" x="507.84" y="267.20" textLength="6.40" lengthAdjust="spacingAndGlyphs">10</text><text class="xs" x="514.59" y="262.80" textLength="3.16" lengthAdjust="spacingAndGlyphs">4</text>
<path class="gate" d="M440.60 201.50H513.00"/><path class="gtk" d="M440.60 195.00V207.50"/>
<polygon class="h" points="88.80,414.40 88.80,414.40 89.35,413.06 89.90,412.36 90.45,411.54 91.00,410.58 91.55,409.75 92.10,411.17 92.65,410.63 93.20,410.75 93.75,409.82 94.30,410.38 94.85,411.10 95.40,410.95 95.95,410.66 96.50,410.00 97.05,410.01 97.60,410.63 98.15,409.53 98.70,409.79 99.25,409.28 99.80,409.54 100.35,409.02 100.90,407.49 101.45,406.40 102.00,406.57 102.55,406.73 103.10,407.03 103.65,407.50 104.20,407.26 104.75,403.16 105.30,403.53 105.85,402.74 106.40,402.15 106.95,401.69 107.50,401.21 108.05,403.13 108.60,404.47 109.15,406.33 109.70,407.50 110.25,406.62 110.80,406.60 111.35,408.27 111.90,409.07 112.45,408.08 113.00,409.47 113.55,410.07 114.10,409.12 114.65,410.24 115.20,410.78 115.75,410.92 116.30,411.21 116.85,411.95 117.40,413.15 117.95,413.15 118.50,412.58 119.05,411.93 119.60,412.78 120.15,412.75 120.70,412.14 121.25,412.57 121.80,412.95 122.35,412.95 122.90,412.55 123.45,412.52 124.00,412.67 124.55,412.23 125.10,412.25 125.65,412.25 126.20,412.84 126.75,412.47 127.30,412.70 127.85,412.53 128.40,412.66 128.95,412.26 129.50,412.15 130.05,413.22 130.60,412.53 131.15,412.24 131.70,412.84 132.25,413.02 132.80,412.32 133.35,412.82 133.90,412.55 134.45,412.75 135.00,412.21 135.55,412.23 136.10,413.29 136.65,413.16 137.20,412.75 137.75,412.84 138.30,412.52 138.85,413.09 139.40,412.71 139.95,413.28 140.50,413.10 141.05,413.16 141.60,413.33 142.15,412.57 142.70,412.35 143.25,412.53 143.80,412.52 144.35,412.43 144.90,412.40 145.45,412.95 146.00,413.29 146.55,412.87 147.10,413.39 147.65,413.36 148.20,412.48 148.75,413.05 149.30,412.85 149.85,412.57 150.40,413.45 150.95,412.73 151.50,413.06 152.05,413.18 152.60,413.85 153.15,413.81 153.70,414.19 154.00,414.40"/>
<polygon class="h" points="77.50,414.40 77.50,414.00 78.40,413.70 79.30,413.50 80.20,413.50 81.10,413.20 82.00,414.10 82.90,414.10 83.80,414.10 84.70,413.60 85.60,413.70 86.50,414.10 87.40,413.20 88.30,413.60 89.20,413.90 90.10,413.80 91.00,413.90 91.90,414.00 92.80,413.50 93.70,414.10 94.60,413.50 95.50,413.70 96.40,413.50 97.30,413.80 98.20,413.70 99.10,413.90 100.00,414.00 100.90,413.90 101.80,413.80 102.70,413.50 103.60,413.80 104.50,413.50 105.40,413.70 106.30,413.70 107.20,413.70 108.10,414.00 109.00,414.10 109.90,413.20 110.80,413.70 111.70,413.90 112.60,413.60 113.50,414.10 114.40,413.50 115.30,413.20 116.20,413.50 117.10,414.00 118.00,413.50 118.90,413.90 119.80,414.00 120.70,414.10 121.60,413.20 122.50,414.10 123.40,413.80 124.30,413.60 125.20,413.20 126.10,414.00 127.00,414.00 127.90,413.70 128.80,413.70 129.70,413.50 130.60,413.50 131.50,413.90 132.40,413.60 133.30,413.70 134.20,413.50 135.10,413.50 136.00,414.00 136.90,414.10 137.80,413.80 138.70,413.60 139.60,414.00 140.50,413.60 141.40,413.20 142.30,413.80 143.20,413.80 144.10,414.10 145.00,413.60 145.90,413.90 146.80,413.50 147.70,413.80 148.60,414.00 149.50,414.10 150.40,413.90 151.30,413.60 152.20,414.10 153.10,413.70 154.00,413.90 154.90,413.70 155.80,413.20 156.70,414.10 157.60,413.50 158.50,413.60 159.40,413.60 160.30,413.90 161.20,414.10 162.10,413.60 163.00,413.20 163.90,413.90 164.80,413.70 165.70,413.50 166.60,413.70 167.50,413.60 168.40,413.70 169.30,414.10 170.20,414.00 171.10,414.10 172.00,414.10 172.90,413.80 173.80,413.80 174.70,413.80 175.60,414.10 176.50,413.70 177.40,413.80 178.30,414.00 179.20,414.10 180.10,413.70 181.00,414.00 181.90,414.10 182.80,414.00 183.70,413.60 184.60,414.10 185.50,413.20 186.40,413.20 187.30,414.10 188.20,413.20 189.10,414.10 190.00,414.10 190.90,413.20 191.80,413.70 192.70,413.20 193.60,413.70 194.50,413.70 195.40,414.00 196.30,413.20 197.20,413.90 198.10,413.20 199.00,413.50 199.90,413.50 200.80,413.80 201.70,413.20 202.60,413.60 203.50,414.10 204.40,413.50 205.30,414.00 206.00,414.40"/>
<rect class="box" x="77.50" y="310.50" width="129.00" height="104.00"/>
<path class="tk" d="M73.40 414.40H77.00M75.00 410.24H77.00M75.00 406.07H77.00M75.00 401.91H77.00M75.00 397.74H77.00M73.40 393.58H77.00M75.00 389.42H77.00M75.00 385.25H77.00M75.00 381.09H77.00M75.00 376.92H77.00M73.40 372.76H77.00M75.00 368.60H77.00M75.00 364.43H77.00M75.00 360.27H77.00M75.00 356.10H77.00M73.40 351.94H77.00M75.00 347.78H77.00M75.00 343.61H77.00M75.00 339.45H77.00M75.00 335.28H77.00M73.40 331.12H77.00M75.00 326.96H77.00M75.00 322.79H77.00M75.00 318.63H77.00M75.00 314.46H77.00M73.40 310.30H77.00M77.00 414.40V417.40M86.75 414.40V416.20M92.45 414.40V416.20M96.49 414.40V416.20M99.63 414.40V416.20M102.19 414.40V416.20M104.36 414.40V416.20M106.24 414.40V416.20M107.89 414.40V416.20M109.38 414.40V417.40M119.12 414.40V416.20M124.82 414.40V416.20M128.87 414.40V416.20M132.00 414.40V416.20M134.57 414.40V416.20M136.74 414.40V416.20M138.61 414.40V416.20M140.27 414.40V416.20M141.75 414.40V417.40M151.50 414.40V416.20M157.20 414.40V416.20M161.24 414.40V416.20M164.38 414.40V416.20M166.94 414.40V416.20M169.11 414.40V416.20M170.99 414.40V416.20M172.64 414.40V416.20M174.12 414.40V417.40M183.87 414.40V416.20M189.57 414.40V416.20M193.62 414.40V416.20M196.75 414.40V416.20M199.32 414.40V416.20M201.49 414.40V416.20M203.36 414.40V416.20M205.02 414.40V416.20M206.50 414.40V417.40"/>
<text class="yl" transform="translate(71.50 415.87) rotate(-90.00)" textLength="3.71" lengthAdjust="spacingAndGlyphs">0</text><text class="yl" transform="translate(71.50 396.91) rotate(-90.00)" textLength="7.42" lengthAdjust="spacingAndGlyphs">20</text><text class="yl" transform="translate(71.50 375.89) rotate(-90.00)" textLength="7.20" lengthAdjust="spacingAndGlyphs">40</text><text class="yl" transform="translate(71.50 355.27) rotate(-90.00)" textLength="7.42" lengthAdjust="spacingAndGlyphs">60</text><text class="yl" transform="translate(71.50 334.38) rotate(-90.00)" textLength="7.34" lengthAdjust="spacingAndGlyphs">80</text><text class="yl" transform="translate(71.50 315.20) rotate(-90.00)" textLength="10.33" lengthAdjust="spacingAndGlyphs">100</text>
<text class="xl" x="71.84" y="425.40" textLength="6.40" lengthAdjust="spacingAndGlyphs">10</text><text class="xs" x="78.46" y="421.00" textLength="3.36" lengthAdjust="spacingAndGlyphs">0</text><text class="xl" x="104.21" y="425.40" textLength="6.40" lengthAdjust="spacingAndGlyphs">10</text><text class="xs" x="110.83" y="421.00" textLength="1.68" lengthAdjust="spacingAndGlyphs">1</text><text class="xl" x="136.59" y="425.40" textLength="6.40" lengthAdjust="spacingAndGlyphs">10</text><text class="xs" x="143.13" y="421.00" textLength="3.51" lengthAdjust="spacingAndGlyphs">2</text><text class="xl" x="168.96" y="425.40" textLength="6.40" lengthAdjust="spacingAndGlyphs">10</text><text class="xs" x="175.58" y="421.00" textLength="3.43" lengthAdjust="spacingAndGlyphs">3</text><text class="xl" x="201.34" y="425.40" textLength="6.40" lengthAdjust="spacingAndGlyphs">10</text><text class="xs" x="208.09" y="421.00" textLength="3.16" lengthAdjust="spacingAndGlyphs">4</text>
<path class="gate" d="M124.30 354.50H206.50"/><path class="gtk" d="M124.30 348.50V360.10"/>
<polygon class="h" points="244.00,415.00 244.00,415.00 244.55,413.99 245.10,413.30 245.65,413.80 246.20,412.88 246.75,413.69 247.30,412.90 247.85,412.82 248.40,412.64 248.95,413.27 249.50,412.34 250.05,412.02 250.60,411.10 251.15,408.96 251.70,408.54 252.25,407.38 252.80,406.81 253.35,404.43 253.90,403.24 254.45,400.50 255.00,400.18 255.55,398.18 256.10,398.10 256.65,396.32 257.20,396.03 257.75,393.72 258.30,393.54 258.85,391.43 259.40,390.86 259.95,391.56 260.50,390.42 261.05,392.98 261.60,391.86 262.15,393.34 262.70,393.43 263.25,395.46 263.80,395.32 264.35,397.96 264.90,399.29 265.45,399.17 266.00,398.21 266.55,397.28 267.10,399.57 267.65,401.31 268.20,400.83 268.75,402.21 269.30,404.41 269.85,402.27 270.40,402.57 270.95,399.56 271.50,399.66 272.05,397.62 272.60,399.64 273.15,400.01 273.70,399.99 274.25,401.64 274.80,402.78 275.35,404.07 275.90,405.09 276.45,405.72 277.00,404.47 277.55,406.80 278.10,407.86 278.65,406.71 279.20,406.94 279.75,408.29 280.30,409.79 280.85,410.18 281.40,410.94 281.95,410.81 282.50,411.85 283.05,411.18 283.60,412.26 284.15,411.81 284.70,411.36 285.25,411.55 285.80,412.52 286.35,412.42 286.90,412.54 287.45,411.21 288.00,411.57 288.55,412.51 289.10,411.68 289.65,412.04 290.20,411.74 290.75,412.19 291.30,411.95 291.85,412.51 292.40,412.39 292.95,411.99 293.50,412.06 294.05,411.48 294.60,412.38 295.15,412.09 295.70,411.50 296.25,411.59 296.80,411.83 297.35,412.10 297.90,412.24 298.45,412.46 299.00,412.85 299.55,411.82 300.10,411.88 300.65,412.20 301.20,412.18 301.75,412.68 302.30,412.86 302.85,412.45 303.40,412.59 303.95,412.67 304.50,411.80 305.05,412.17 305.60,412.18 306.15,411.79 306.70,412.11 307.25,411.94 307.80,412.59 308.35,412.11 308.90,412.18 309.45,412.97 310.00,412.41 310.55,413.03 311.10,412.58 311.65,412.45 312.20,412.84 312.75,412.04 313.30,412.95 313.85,412.32 314.40,411.87 314.95,412.53 315.50,411.94 316.05,412.55 316.60,412.64 317.15,412.76 317.70,412.73 318.25,411.84 318.80,411.84 319.35,412.77 319.90,412.57 320.45,413.05 321.00,412.39 321.55,412.02 322.10,411.93 322.65,411.96 323.20,412.16 323.75,412.94 324.30,412.69 324.85,413.09 325.40,413.14 325.95,412.67 326.50,412.21 327.05,412.30 327.60,412.82 328.15,412.26 328.70,412.74 329.25,412.74 329.80,412.16 330.35,412.23 330.90,413.33 331.45,412.77 332.00,412.76 332.55,412.73 333.10,413.19 333.65,413.02 334.20,413.08 334.75,412.96 335.30,412.45 335.85,412.58 336.40,412.64 336.95,412.36 337.50,413.09 338.05,413.38 338.60,413.50 339.15,412.46 339.70,412.63 340.25,413.15 340.80,412.46 341.35,412.71 341.90,412.93 342.45,413.38 343.00,412.55 343.55,412.58 344.10,412.81 344.65,412.81 345.20,412.75 345.75,413.26 346.30,412.80 346.85,412.63 347.40,413.62 347.95,413.17 348.50,413.14 349.05,412.97 349.60,413.70 350.15,413.82 350.70,412.82 351.25,413.51 351.80,413.52 352.35,413.44 352.90,413.26 353.45,413.26 354.00,413.62 354.55,412.89 355.10,413.82 355.65,412.99 356.20,413.10 356.75,413.34 357.30,412.96 357.85,413.90 358.40,413.70 358.95,414.21 359.50,414.63 360.00,415.00"/>
<polygon class="h" points="232.00,415.00 232.00,414.40 232.90,414.60 233.80,414.50 234.70,414.60 235.60,414.40 236.50,414.60 237.40,413.80 238.30,414.60 239.20,414.70 240.10,414.30 241.00,414.30 241.90,413.80 242.80,414.30 243.70,414.20 244.60,414.10 245.50,414.40 246.40,414.60 247.30,414.10 248.20,414.20 249.10,414.10 250.00,414.30 250.90,413.80 251.80,414.20 252.70,414.40 253.60,414.60 254.50,414.10 255.40,414.50 256.30,414.50 257.20,413.80 258.10,414.60 259.00,414.30 259.90,414.60 260.80,414.30 261.70,414.10 262.60,414.50 263.50,414.40 264.40,413.80 265.30,413.80 266.20,413.80 267.10,414.60 268.00,414.60 268.90,414.20 269.80,414.30 270.70,414.30 271.60,414.40 272.50,414.70 273.40,414.20 274.30,414.60 275.20,414.50 276.10,414.50 277.00,414.10 277.90,414.70 278.80,414.30 279.70,413.80 280.60,414.70 281.50,414.30 282.40,414.10 283.30,413.80 284.20,414.40 285.10,414.50 286.00,413.80 286.90,414.70 287.80,414.50 288.70,414.40 289.60,414.40 290.50,414.50 291.40,414.60 292.30,414.10 293.20,414.50 294.10,414.60 295.00,414.40 295.90,414.20 296.80,414.10 297.70,414.30 298.60,414.10 299.50,413.80 300.40,414.30 301.30,414.10 302.20,414.10 303.10,414.30 304.00,414.60 304.90,413.80 305.80,413.40 306.70,414.10 307.60,414.70 308.50,414.20 309.40,414.40 310.30,414.30 311.20,414.30 312.10,414.10 313.00,414.50 313.90,414.30 314.80,414.30 315.70,414.20 316.60,414.60 317.50,414.50 318.40,414.70 319.30,414.10 320.20,413.80 321.10,414.50 322.00,414.20 322.90,414.30 323.80,414.20 324.70,413.80 325.60,414.50 326.50,413.40 327.40,414.20 328.30,414.40 329.20,413.80 330.10,413.40 331.00,414.20 331.90,414.40 332.80,414.50 333.70,413.80 334.60,414.50 335.50,414.70 336.40,414.60 337.30,413.80 338.20,414.30 339.10,413.80 340.00,414.40 340.90,414.40 341.80,414.40 342.70,414.40 343.60,413.80 344.50,414.70 345.40,414.60 346.30,414.10 347.20,414.20 348.10,413.80 349.00,414.50 349.90,414.10 350.80,414.20 351.70,414.60 352.60,414.70 353.50,414.20 354.40,414.40 355.30,414.60 356.20,414.50 357.10,414.60 358.00,414.50 358.90,414.30 359.80,414.30 360.70,414.70 361.00,415.00"/>
<rect class="box" x="231.50" y="310.50" width="130.00" height="105.00"/>
<path class="tk" d="M227.90 415.00H231.50M229.50 410.82H231.50M229.50 406.64H231.50M229.50 402.46H231.50M229.50 398.28H231.50M227.90 394.10H231.50M229.50 389.92H231.50M229.50 385.74H231.50M229.50 381.56H231.50M229.50 377.38H231.50M227.90 373.20H231.50M229.50 369.02H231.50M229.50 364.84H231.50M229.50 360.66H231.50M229.50 356.48H231.50M227.90 352.30H231.50M229.50 348.12H231.50M229.50 343.94H231.50M229.50 339.76H231.50M229.50 335.58H231.50M227.90 331.40H231.50M229.50 327.22H231.50M229.50 323.04H231.50M229.50 318.86H231.50M229.50 314.68H231.50M227.90 310.50H231.50M231.50 415.00V418.00M241.28 415.00V416.80M247.01 415.00V416.80M251.07 415.00V416.80M254.22 415.00V416.80M256.79 415.00V416.80M258.97 415.00V416.80M260.85 415.00V416.80M262.51 415.00V416.80M264.00 415.00V418.00M273.78 415.00V416.80M279.51 415.00V416.80M283.57 415.00V416.80M286.72 415.00V416.80M289.29 415.00V416.80M291.47 415.00V416.80M293.35 415.00V416.80M295.01 415.00V416.80M296.50 415.00V418.00M306.28 415.00V416.80M312.01 415.00V416.80M316.07 415.00V416.80M319.22 415.00V416.80M321.79 415.00V416.80M323.97 415.00V416.80M325.85 415.00V416.80M327.51 415.00V416.80M329.00 415.00V418.00M338.78 415.00V416.80M344.51 415.00V416.80M348.57 415.00V416.80M351.72 415.00V416.80M354.29 415.00V416.80M356.47 415.00V416.80M358.35 415.00V416.80M360.01 415.00V416.80M361.50 415.00V418.00"/>
<text class="yl" transform="translate(226.00 416.47) rotate(-90.00)" textLength="3.71" lengthAdjust="spacingAndGlyphs">0</text><text class="yl" transform="translate(226.00 397.43) rotate(-90.00)" textLength="7.42" lengthAdjust="spacingAndGlyphs">20</text><text class="yl" transform="translate(226.00 376.33) rotate(-90.00)" textLength="7.20" lengthAdjust="spacingAndGlyphs">40</text><text class="yl" transform="translate(226.00 355.63) rotate(-90.00)" textLength="7.42" lengthAdjust="spacingAndGlyphs">60</text><text class="yl" transform="translate(226.00 334.66) rotate(-90.00)" textLength="7.34" lengthAdjust="spacingAndGlyphs">80</text><text class="yl" transform="translate(226.00 315.40) rotate(-90.00)" textLength="10.33" lengthAdjust="spacingAndGlyphs">100</text>
<text class="xl" x="226.34" y="426.00" textLength="6.40" lengthAdjust="spacingAndGlyphs">10</text><text class="xs" x="232.96" y="421.60" textLength="3.36" lengthAdjust="spacingAndGlyphs">0</text><text class="xl" x="258.84" y="426.00" textLength="6.40" lengthAdjust="spacingAndGlyphs">10</text><text class="xs" x="265.46" y="421.60" textLength="1.68" lengthAdjust="spacingAndGlyphs">1</text><text class="xl" x="291.34" y="426.00" textLength="6.40" lengthAdjust="spacingAndGlyphs">10</text><text class="xs" x="297.88" y="421.60" textLength="3.51" lengthAdjust="spacingAndGlyphs">2</text><text class="xl" x="323.84" y="426.00" textLength="6.40" lengthAdjust="spacingAndGlyphs">10</text><text class="xs" x="330.45" y="421.60" textLength="3.43" lengthAdjust="spacingAndGlyphs">3</text><text class="xl" x="356.34" y="426.00" textLength="6.40" lengthAdjust="spacingAndGlyphs">10</text><text class="xs" x="363.09" y="421.60" textLength="3.16" lengthAdjust="spacingAndGlyphs">4</text>
<path class="gate" d="M282.40 353.50H361.50"/><path class="gtk" d="M282.40 347.20V360.10"/>
<polygon class="h" points="405.00,415.70 405.00,415.70 405.55,415.46 406.10,415.23 406.65,414.99 407.20,414.70 407.75,414.58 408.30,414.02 408.85,413.47 409.40,412.95 409.95,412.88 410.50,412.70 411.05,413.12 411.60,412.75 412.15,412.40 412.70,412.31 413.25,412.02 413.80,410.94 414.35,410.58 414.90,408.15 415.45,408.80 416.00,407.00 416.55,404.45 417.10,402.72 417.65,401.01 418.20,397.75 418.75,396.40 419.30,394.14 419.85,393.26 420.40,393.68 420.95,391.61 421.50,392.44 422.05,394.13 422.60,395.29 423.15,396.25 423.70,399.88 424.25,401.28 424.80,403.36 425.35,404.23 425.90,405.91 426.45,407.42 427.00,407.83 427.55,407.49 428.10,408.03 428.65,409.98 429.20,409.12 429.75,408.03 430.30,409.70 430.85,408.18 431.40,407.95 431.95,410.01 432.50,410.55 433.05,410.88 433.60,410.91 434.15,410.19 434.70,410.76 435.25,409.79 435.80,410.49 436.35,410.57 436.90,409.48 437.45,410.06 438.00,409.38 438.55,410.21 439.10,411.14 439.65,410.61 440.20,411.02 440.75,411.19 441.30,410.07 441.85,411.80 442.40,411.39 442.95,410.27 443.50,411.60 444.05,410.80 444.60,410.40 445.15,411.84 445.70,411.12 446.25,411.50 446.80,410.34 447.35,411.50 447.90,410.19 448.45,410.52 449.00,410.77 449.55,410.11 450.10,411.18 450.65,410.50 451.20,410.67 451.75,411.43 452.30,410.93 452.85,411.79 453.40,411.32 453.95,411.79 454.50,411.25 455.05,411.90 455.60,411.83 456.15,410.59 456.70,411.64 457.25,410.94 457.80,411.70 458.35,411.57 458.90,411.84 459.45,410.62 460.00,411.08 460.55,411.76 461.10,412.17 461.65,411.82 462.20,410.70 462.75,411.71 463.30,410.90 463.85,411.70 464.40,412.17 464.95,411.07 465.50,412.46 466.05,412.07 466.60,411.22 467.15,410.95 467.70,411.22 468.25,411.76 468.80,411.15 469.35,410.12 469.90,409.85 470.45,409.95 471.00,411.21 471.55,409.96 472.10,410.62 472.65,410.04 473.20,410.76 473.75,410.07 474.30,409.51 474.85,410.91 475.40,410.15 475.95,410.39 476.50,410.56 477.05,410.46 477.60,407.83 478.15,408.05 478.70,406.83 479.25,406.89 479.80,406.87 480.35,406.29 480.90,405.78 481.45,407.69 482.00,408.90 482.55,408.02 483.10,406.72 483.65,406.39 484.20,405.60 484.75,407.49 485.30,406.41 485.85,407.76 486.40,407.59 486.95,406.75 487.50,407.98 488.05,407.70 488.60,409.07 489.15,407.98 489.70,406.23 490.25,406.95 490.80,408.27 491.35,409.32 491.90,410.13 492.45,409.93 493.00,410.06 493.55,409.58 494.10,410.88 494.65,410.66 495.20,410.38 495.75,411.43 496.30,412.56 496.85,411.31 497.40,411.85 497.95,413.00 498.50,412.84 499.05,413.24 499.60,413.90 500.15,413.78 500.70,414.25 501.25,414.34 501.80,414.91 502.35,415.06 502.90,414.29 503.45,414.91 504.00,414.99 504.55,415.12 505.10,415.25 505.65,415.38 506.20,415.51 506.75,415.64 507.00,415.70"/>
<polygon class="h" points="385.80,415.70 385.80,414.80 386.70,415.20 387.60,414.50 388.50,414.80 389.40,415.00 390.30,414.50 391.20,415.10 392.10,414.80 393.00,415.30 393.90,415.10 394.80,414.90 395.70,414.80 396.60,415.10 397.50,414.80 398.40,414.10 399.30,415.30 400.20,414.50 401.10,415.20 402.00,414.50 402.90,415.10 403.80,414.80 404.70,415.20 405.60,414.50 406.50,414.90 407.40,415.30 408.30,415.20 409.20,415.10 410.10,414.50 411.00,415.40 411.90,414.50 412.80,415.40 413.70,415.30 414.60,414.50 415.50,415.20 416.40,415.40 417.30,415.40 418.20,415.10 419.10,415.40 420.00,415.40 420.90,415.40 421.80,415.10 422.70,415.40 423.60,415.30 424.50,415.10 425.40,415.30 426.30,415.20 427.20,415.10 428.10,415.30 429.00,414.90 429.90,415.40 430.80,415.10 431.70,415.10 432.60,415.40 433.50,415.00 434.40,415.20 435.30,415.10 436.20,415.00 437.10,415.10 438.00,414.50 438.90,414.90 439.80,414.50 440.70,414.90 441.60,415.10 442.50,414.50 443.40,415.40 444.30,415.20 445.20,415.10 446.10,414.80 447.00,415.20 447.90,415.00 448.80,414.80 449.70,415.00 450.60,415.10 451.50,415.00 452.40,415.00 453.30,415.10 454.20,414.80 455.10,414.90 456.00,415.10 456.90,415.30 457.80,415.10 458.70,415.40 459.60,415.40 460.50,415.30 461.40,415.10 462.30,415.30 463.20,415.30 464.10,414.80 465.00,415.40 465.90,415.30 466.80,415.10 467.70,415.30 468.60,414.50 469.50,414.90 470.40,415.00 471.30,414.50 472.20,415.00 473.10,414.50 474.00,415.40 474.90,414.80 475.80,414.90 476.70,415.40 477.60,414.80 478.50,415.10 479.40,414.10 480.30,415.00 481.20,414.50 482.10,415.20 483.00,415.40 483.90,414.50 484.80,415.10 485.70,415.00 486.60,415.30 487.50,415.10 488.40,415.30 489.30,415.40 490.20,414.80 491.10,415.40 492.00,414.80 492.90,415.20 493.80,415.40 494.70,415.10 495.60,415.20 496.50,414.10 497.40,415.30 498.30,414.80 499.20,415.00 500.10,415.20 501.00,414.90 501.90,415.20 502.80,414.80 503.70,414.80 504.60,414.50 505.50,415.40 506.40,415.20 507.30,414.80 508.20,415.30 509.10,415.10 510.00,415.10 510.90,414.90 511.50,415.70"/>
<rect class="box" x="385.50" y="314.50" width="127.00" height="101.00"/>
<path class="tk" d="M381.70 415.70H385.30M383.30 411.66H385.30M383.30 407.62H385.30M383.30 403.58H385.30M383.30 399.54H385.30M381.70 395.50H385.30M383.30 391.46H385.30M383.30 387.42H385.30M383.30 383.38H385.30M383.30 379.34H385.30M381.70 375.30H385.30M383.30 371.26H385.30M383.30 367.22H385.30M383.30 363.18H385.30M383.30 359.14H385.30M381.70 355.10H385.30M383.30 351.06H385.30M383.30 347.02H385.30M383.30 342.98H385.30M383.30 338.94H385.30M381.70 334.90H385.30M383.30 330.86H385.30M383.30 326.82H385.30M383.30 322.78H385.30M383.30 318.74H385.30M381.70 314.70H385.30M385.30 415.70V418.70M394.84 415.70V417.50M400.41 415.70V417.50M404.37 415.70V417.50M407.44 415.70V417.50M409.95 415.70V417.50M412.07 415.70V417.50M413.91 415.70V417.50M415.53 415.70V417.50M416.98 415.70V418.70M426.51 415.70V417.50M432.09 415.70V417.50M436.05 415.70V417.50M439.11 415.70V417.50M441.62 415.70V417.50M443.74 415.70V417.50M445.58 415.70V417.50M447.20 415.70V417.50M448.65 415.70V418.70M458.19 415.70V417.50M463.76 415.70V417.50M467.72 415.70V417.50M470.79 415.70V417.50M473.30 415.70V417.50M475.42 415.70V417.50M477.26 415.70V417.50M478.88 415.70V417.50M480.32 415.70V418.70M489.86 415.70V417.50M495.44 415.70V417.50M499.40 415.70V417.50M502.46 415.70V417.50M504.97 415.70V417.50M507.09 415.70V417.50M508.93 415.70V417.50M510.55 415.70V417.50M512.00 415.70V418.70"/>
<text class="yl" transform="translate(379.80 417.17) rotate(-90.00)" textLength="3.71" lengthAdjust="spacingAndGlyphs">0</text><text class="yl" transform="translate(379.80 398.83) rotate(-90.00)" textLength="7.42" lengthAdjust="spacingAndGlyphs">20</text><text class="yl" transform="translate(379.80 378.43) rotate(-90.00)" textLength="7.20" lengthAdjust="spacingAndGlyphs">40</text><text class="yl" transform="translate(379.80 358.43) rotate(-90.00)" textLength="7.42" lengthAdjust="spacingAndGlyphs">60</text><text class="yl" transform="translate(379.80 338.16) rotate(-90.00)" textLength="7.34" lengthAdjust="spacingAndGlyphs">80</text><text class="yl" transform="translate(379.80 319.60) rotate(-90.00)" textLength="10.33" lengthAdjust="spacingAndGlyphs">100</text>
<text class="xl" x="380.14" y="426.70" textLength="6.40" lengthAdjust="spacingAndGlyphs">10</text><text class="xs" x="386.76" y="422.30" textLength="3.36" lengthAdjust="spacingAndGlyphs">0</text><text class="xl" x="411.81" y="426.70" textLength="6.40" lengthAdjust="spacingAndGlyphs">10</text><text class="xs" x="418.43" y="422.30" textLength="1.68" lengthAdjust="spacingAndGlyphs">1</text><text class="xl" x="443.49" y="426.70" textLength="6.40" lengthAdjust="spacingAndGlyphs">10</text><text class="xs" x="450.03" y="422.30" textLength="3.51" lengthAdjust="spacingAndGlyphs">2</text><text class="xl" x="475.16" y="426.70" textLength="6.40" lengthAdjust="spacingAndGlyphs">10</text><text class="xs" x="481.78" y="422.30" textLength="3.43" lengthAdjust="spacingAndGlyphs">3</text><text class="xl" x="506.84" y="426.70" textLength="6.40" lengthAdjust="spacingAndGlyphs">10</text><text class="xs" x="513.59" y="422.30" textLength="3.16" lengthAdjust="spacingAndGlyphs">4</text>
<path class="gate" d="M449.15 358.50H512.00"/><path class="gtk" d="M449.15 351.80V363.80"/>
<polygon class="h" points="88.50,544.70 88.50,544.70 89.05,542.77 89.60,541.95 90.15,541.34 90.70,541.32 91.25,541.14 91.80,540.87 92.35,540.33 92.90,540.19 93.45,540.36 94.00,541.31 94.55,540.21 95.10,540.11 95.65,540.05 96.20,539.47 96.75,540.72 97.30,538.43 97.85,539.24 98.40,539.56 98.95,537.75 99.50,538.24 100.05,537.37 100.60,536.79 101.15,536.80 101.70,536.72 102.25,538.56 102.80,537.82 103.35,536.88 103.90,533.36 104.45,533.87 105.00,531.78 105.55,531.60 106.10,531.55 106.65,531.41 107.20,533.94 107.75,533.11 108.30,536.56 108.85,537.50 109.40,537.27 109.95,538.12 110.50,539.49 111.05,538.19 111.60,539.38 112.15,539.95 112.70,539.60 113.25,540.57 113.80,540.37 114.35,540.95 114.90,541.48 115.45,542.16 116.00,542.31 116.55,543.27 117.10,543.20 117.65,542.64 118.20,542.88 118.75,542.33 119.30,543.13 119.85,542.65 120.40,542.97 120.95,542.77 121.50,542.75 122.05,542.49 122.60,542.44 123.15,543.37 123.70,542.95 124.25,542.98 124.80,543.02 125.35,543.35 125.90,542.72 126.45,542.66 127.00,543.38 127.55,542.99 128.10,543.20 128.65,543.41 129.20,543.49 129.75,543.47 130.30,542.57 130.85,542.95 131.40,543.45 131.95,543.44 132.50,542.69 133.05,542.73 133.60,542.85 134.15,542.69 134.70,542.97 135.25,543.46 135.80,543.17 136.35,543.10 136.90,542.72 137.45,543.05 138.00,543.70 138.55,543.39 139.10,543.13 139.65,543.17 140.20,543.52 140.75,543.48 141.30,542.85 141.85,543.42 142.40,543.10 142.95,543.27 143.50,542.98 144.05,543.12 144.60,543.10 145.15,543.15 145.70,542.78 146.25,542.98 146.80,543.37 147.35,542.85 147.90,542.98 148.45,543.55 149.00,543.10 149.55,543.16 150.10,543.08 150.65,543.70 151.20,542.95 151.75,543.51 152.30,543.75 152.85,543.09 153.40,543.32 153.95,544.00 154.50,544.24 155.00,544.70"/>
<polygon class="h" points="76.50,544.70 76.50,544.10 77.40,543.90 78.30,544.40 79.20,543.50 80.10,544.30 81.00,543.50 81.90,544.30 82.80,544.00 83.70,543.80 84.60,544.10 85.50,543.80 86.40,544.20 87.30,543.10 88.20,544.30 89.10,544.40 90.00,543.10 90.90,544.30 91.80,543.90 92.70,544.20 93.60,543.90 94.50,544.40 95.40,543.80 96.30,544.40 97.20,543.50 98.10,544.30 99.00,544.20 99.90,544.20 100.80,544.40 101.70,544.20 102.60,543.80 103.50,544.40 104.40,543.80 105.30,543.90 106.20,544.30 107.10,544.00 108.00,544.40 108.90,544.00 109.80,543.80 110.70,544.40 111.60,543.50 112.50,544.20 113.40,543.50 114.30,543.50 115.20,544.30 116.10,543.50 117.00,544.30 117.90,543.50 118.80,544.00 119.70,544.10 120.60,543.90 121.50,544.00 122.40,544.10 123.30,544.40 124.20,544.40 125.10,544.30 126.00,544.10 126.90,543.80 127.80,543.50 128.70,543.80 129.60,543.90 130.50,543.90 131.40,543.80 132.30,544.30 133.20,544.20 134.10,544.20 135.00,543.90 135.90,544.00 136.80,543.50 137.70,544.00 138.60,543.80 139.50,543.90 140.40,544.20 141.30,544.30 142.20,543.50 143.10,543.90 144.00,544.00 144.90,544.00 145.80,543.10 146.70,543.80 147.60,544.10 148.50,544.00 149.40,543.50 150.30,543.80 151.20,543.80 152.10,544.40 153.00,544.00 153.90,543.80 154.80,544.20 155.70,544.00 156.60,544.30 157.50,544.30 158.40,544.10 159.30,543.80 160.20,544.20 161.10,544.10 162.00,543.10 162.90,544.20 163.80,543.50 164.70,544.20 165.60,543.90 166.50,543.80 167.40,543.50 168.30,544.20 169.20,544.10 170.10,544.00 171.00,544.40 171.90,544.10 172.80,543.80 173.70,544.10 174.60,543.50 175.50,543.90 176.40,544.20 177.30,544.30 178.20,544.40 179.10,544.20 180.00,544.00 180.90,544.10 181.80,544.00 182.70,544.20 183.60,543.90 184.50,543.50 185.40,543.80 186.30,543.10 187.20,544.20 188.10,543.80 189.00,544.40 189.90,544.10 190.80,543.50 191.70,543.80 192.60,543.80 193.50,543.80 194.40,544.40 195.30,544.40 196.20,543.80 197.10,543.80 198.00,544.00 198.90,543.50 199.80,544.30 200.70,544.20 201.60,544.20 202.50,543.80 203.40,544.40 204.30,544.20 205.00,544.70"/>
<rect class="box" x="76.50" y="440.50" width="129.00" height="104.00"/>
<path class="tk" d="M72.40 544.70H76.00M74.00 540.51H76.00M74.00 536.32H76.00M74.00 532.14H76.00M74.00 527.95H76.00M72.40 523.76H76.00M74.00 519.57H76.00M74.00 515.38H76.00M74.00 511.20H76.00M74.00 507.01H76.00M72.40 502.82H76.00M74.00 498.63H76.00M74.00 494.44H76.00M74.00 490.26H76.00M74.00 486.07H76.00M72.40 481.88H76.00M74.00 477.69H76.00M74.00 473.50H76.00M74.00 469.32H76.00M74.00 465.13H76.00M72.40 460.94H76.00M74.00 456.75H76.00M74.00 452.56H76.00M74.00 448.38H76.00M74.00 444.19H76.00M72.40 440.00H76.00M76.00 544.70V547.70M85.75 544.70V546.50M91.45 544.70V546.50M95.49 544.70V546.50M98.63 544.70V546.50M101.19 544.70V546.50M103.36 544.70V546.50M105.24 544.70V546.50M106.89 544.70V546.50M108.38 544.70V547.70M118.12 544.70V546.50M123.82 544.70V546.50M127.87 544.70V546.50M131.00 544.70V546.50M133.57 544.70V546.50M135.74 544.70V546.50M137.61 544.70V546.50M139.27 544.70V546.50M140.75 544.70V547.70M150.50 544.70V546.50M156.20 544.70V546.50M160.24 544.70V546.50M163.38 544.70V546.50M165.94 544.70V546.50M168.11 544.70V546.50M169.99 544.70V546.50M171.64 544.70V546.50M173.12 544.70V547.70M182.87 544.70V546.50M188.57 544.70V546.50M192.62 544.70V546.50M195.75 544.70V546.50M198.32 544.70V546.50M200.49 544.70V546.50M202.36 544.70V546.50M204.02 544.70V546.50M205.50 544.70V547.70"/>
<text class="yl" transform="translate(70.50 546.17) rotate(-90.00)" textLength="3.71" lengthAdjust="spacingAndGlyphs">0</text><text class="yl" transform="translate(70.50 527.09) rotate(-90.00)" textLength="7.42" lengthAdjust="spacingAndGlyphs">20</text><text class="yl" transform="translate(70.50 505.95) rotate(-90.00)" textLength="7.20" lengthAdjust="spacingAndGlyphs">40</text><text class="yl" transform="translate(70.50 485.21) rotate(-90.00)" textLength="7.42" lengthAdjust="spacingAndGlyphs">60</text><text class="yl" transform="translate(70.50 464.20) rotate(-90.00)" textLength="7.34" lengthAdjust="spacingAndGlyphs">80</text><text class="yl" transform="translate(70.50 444.90) rotate(-90.00)" textLength="10.33" lengthAdjust="spacingAndGlyphs">100</text>
<text class="xl" x="70.84" y="555.70" textLength="6.40" lengthAdjust="spacingAndGlyphs">10</text><text class="xs" x="77.46" y="551.30" textLength="3.36" lengthAdjust="spacingAndGlyphs">0</text><text class="xl" x="103.21" y="555.70" textLength="6.40" lengthAdjust="spacingAndGlyphs">10</text><text class="xs" x="109.83" y="551.30" textLength="1.68" lengthAdjust="spacingAndGlyphs">1</text><text class="xl" x="135.59" y="555.70" textLength="6.40" lengthAdjust="spacingAndGlyphs">10</text><text class="xs" x="142.13" y="551.30" textLength="3.51" lengthAdjust="spacingAndGlyphs">2</text><text class="xl" x="167.96" y="555.70" textLength="6.40" lengthAdjust="spacingAndGlyphs">10</text><text class="xs" x="174.58" y="551.30" textLength="3.43" lengthAdjust="spacingAndGlyphs">3</text><text class="xl" x="200.34" y="555.70" textLength="6.40" lengthAdjust="spacingAndGlyphs">10</text><text class="xs" x="207.09" y="551.30" textLength="3.16" lengthAdjust="spacingAndGlyphs">4</text>
<path class="gate" d="M123.10 483.50H205.50"/><path class="gtk" d="M123.10 477.90V491.00"/>
<polygon class="h" points="243.00,541.40 243.00,541.40 243.55,541.05 244.10,540.69 244.65,540.43 245.20,540.49 245.75,539.12 246.30,539.61 246.85,539.56 247.40,539.57 247.95,538.84 248.50,539.30 249.05,538.70 249.60,539.19 250.15,537.78 250.70,538.76 251.25,537.41 251.80,536.84 252.35,535.67 252.90,535.24 253.45,535.37 254.00,534.37 254.55,532.09 255.10,531.67 255.65,530.22 256.20,529.32 256.75,527.78 257.30,526.46 257.85,527.59 258.40,527.09 258.95,526.01 259.50,525.76 260.05,526.47 260.60,527.87 261.15,528.88 261.70,527.90 262.25,526.56 262.80,524.38 263.35,525.35 263.90,526.86 264.45,527.65 265.00,526.34 265.55,527.67 266.10,526.43 266.65,525.66 267.20,527.58 267.75,527.21 268.30,527.79 268.85,526.49 269.40,527.59 269.95,527.17 270.50,526.38 271.05,527.21 271.60,529.12 272.15,530.73 272.70,531.72 273.25,532.80 273.80,535.23 274.35,535.42 274.90,535.28 275.45,533.54 276.00,535.06 276.55,534.27 277.10,535.54 277.65,533.90 278.20,536.11 278.75,535.98 279.30,535.04 279.85,536.06 280.40,534.50 280.95,534.18 281.50,534.54 282.05,533.78 282.60,534.15 283.15,534.96 283.70,534.18 284.25,534.02 284.80,532.97 285.35,533.75 285.90,533.55 286.45,533.62 287.00,534.95 287.55,535.29 288.10,535.02 288.65,534.60 289.20,535.53 289.75,535.68 290.30,534.28 290.85,534.60 291.40,534.92 291.95,534.56 292.50,532.27 293.05,533.30 293.60,532.35 294.15,532.89 294.70,534.90 295.25,534.21 295.80,534.91 296.35,534.84 296.90,534.85 297.45,534.87 298.00,535.31 298.55,536.35 299.10,535.91 299.65,535.25 300.20,534.85 300.75,535.25 301.30,536.16 301.85,535.65 302.40,536.12 302.95,536.44 303.50,535.07 304.05,536.23 304.60,534.96 305.15,536.57 305.70,535.35 306.25,535.60 306.80,537.02 307.35,535.92 307.90,535.72 308.45,537.07 309.00,536.60 309.55,537.20 310.10,536.33 310.65,536.59 311.20,537.50 311.75,536.74 312.30,537.68 312.85,536.31 313.40,537.51 313.95,536.40 314.50,537.11 315.05,536.27 315.60,536.64 316.15,538.01 316.70,537.24 317.25,537.90 317.80,537.03 318.35,537.27 318.90,536.92 319.45,537.72 320.00,538.27 320.55,537.78 321.10,537.63 321.65,538.55 322.20,538.55 322.75,538.26 323.30,537.44 323.85,538.32 324.40,538.12 324.95,538.93 325.50,538.13 326.05,538.62 326.60,538.64 327.15,538.35 327.70,538.61 328.25,538.89 328.80,539.26 329.35,538.77 329.90,538.64 330.45,539.49 331.00,538.33 331.55,539.38 332.10,539.22 332.65,539.11 333.20,539.01 333.75,539.43 334.30,539.64 334.85,539.48 335.40,539.55 335.95,538.72 336.50,539.12 337.05,538.94 337.60,539.94 338.15,539.91 338.70,539.08 339.25,539.64 339.80,539.66 340.35,539.11 340.90,539.54 341.45,539.98 342.00,539.90 342.55,539.55 343.10,540.11 343.65,539.65 344.20,539.96 344.75,539.87 345.30,540.49 345.85,540.19 346.40,540.39 346.95,540.30 347.50,540.04 348.05,540.66 348.60,540.45 349.15,540.47 349.70,540.15 350.25,540.13 350.80,540.59 351.35,540.60 351.90,540.69 352.45,540.77 353.00,540.85 353.55,540.93 354.10,541.01 354.65,541.10 355.20,541.18 355.75,541.26 356.30,541.34 356.70,541.40"/>
<polygon class="h" points="231.00,541.40 231.00,540.80 231.90,540.50 232.80,541.10 233.70,540.70 234.60,541.10 235.50,541.00 236.40,540.80 237.30,540.70 238.20,540.60 239.10,540.80 240.00,541.00 240.90,540.20 241.80,540.80 242.70,540.60 243.60,540.50 244.50,540.60 245.40,541.00 246.30,540.80 247.20,540.20 248.10,540.60 249.00,541.00 249.90,540.20 250.80,541.00 251.70,540.20 252.60,540.90 253.50,541.10 254.40,540.20 255.30,540.80 256.20,540.50 257.10,540.90 258.00,541.00 258.90,540.90 259.80,540.70 260.70,540.90 261.60,541.00 262.50,540.80 263.40,540.60 264.30,540.80 265.20,540.70 266.10,541.00 267.00,540.20 267.90,540.80 268.80,541.00 269.70,541.10 270.60,540.50 271.50,541.00 272.40,540.20 273.30,540.70 274.20,540.50 275.10,540.20 276.00,541.00 276.90,540.70 277.80,541.00 278.70,540.20 279.60,540.20 280.50,540.50 281.40,540.80 282.30,540.90 283.20,540.90 284.10,540.80 285.00,540.60 285.90,540.70 286.80,541.10 287.70,541.10 288.60,539.80 289.50,540.50 290.40,540.80 291.30,540.50 292.20,540.50 293.10,541.10 294.00,540.70 294.90,540.20 295.80,540.90 296.70,540.20 297.60,540.90 298.50,541.00 299.40,541.10 300.30,540.80 301.20,540.20 302.10,539.80 303.00,541.00 303.90,540.60 304.80,540.50 305.70,540.70 306.60,540.50 307.50,541.10 308.40,540.50 309.30,540.50 310.20,540.50 311.10,540.20 312.00,541.10 312.90,541.10 313.80,540.50 314.70,540.20 315.60,540.70 316.50,540.80 317.40,540.20 318.30,540.70 319.20,541.00 320.10,540.60 321.00,540.80 321.90,540.70 322.80,540.60 323.70,540.90 324.60,540.80 325.50,540.70 326.40,540.20 327.30,540.50 328.20,541.10 329.10,540.50 330.00,541.00 330.90,541.00 331.80,541.00 332.70,541.10 333.60,541.00 334.50,540.90 335.40,541.10 336.30,540.90 337.20,540.80 338.10,540.60 339.00,540.50 339.90,540.50 340.80,541.00 341.70,540.90 342.60,540.70 343.50,540.60 344.40,540.60 345.30,541.10 346.20,540.70 347.10,540.50 348.00,540.60 348.90,540.60 349.80,540.90 350.70,541.00 351.60,540.50 352.50,540.50 353.40,540.50 354.30,541.10 355.20,540.50 356.10,541.10 357.00,541.00 357.90,540.50 358.80,541.10 359.70,541.00 360.50,541.40"/>
<rect class="box" x="230.50" y="440.50" width="131.00" height="101.00"/>
<path class="tk" d="M226.90 541.40H230.50M228.50 537.34H230.50M228.50 533.29H230.50M228.50 529.23H230.50M228.50 525.18H230.50M226.90 521.12H230.50M228.50 517.06H230.50M228.50 513.01H230.50M228.50 508.95H230.50M228.50 504.90H230.50M226.90 500.84H230.50M228.50 496.78H230.50M228.50 492.73H230.50M228.50 488.67H230.50M228.50 484.62H230.50M226.90 480.56H230.50M228.50 476.50H230.50M228.50 472.45H230.50M228.50 468.39H230.50M228.50 464.34H230.50M226.90 460.28H230.50M228.50 456.22H230.50M228.50 452.17H230.50M228.50 448.11H230.50M228.50 444.06H230.50M226.90 440.00H230.50M230.50 541.40V544.40M240.32 541.40V543.20M246.07 541.40V543.20M250.14 541.40V543.20M253.30 541.40V543.20M255.89 541.40V543.20M258.07 541.40V543.20M259.96 541.40V543.20M261.63 541.40V543.20M263.12 541.40V544.40M272.95 541.40V543.20M278.69 541.40V543.20M282.77 541.40V543.20M285.93 541.40V543.20M288.51 541.40V543.20M290.70 541.40V543.20M292.59 541.40V543.20M294.26 541.40V543.20M295.75 541.40V544.40M305.57 541.40V543.20M311.32 541.40V543.20M315.39 541.40V543.20M318.55 541.40V543.20M321.14 541.40V543.20M323.32 541.40V543.20M325.21 541.40V543.20M326.88 541.40V543.20M328.38 541.40V544.40M338.20 541.40V543.20M343.94 541.40V543.20M348.02 541.40V543.20M351.18 541.40V543.20M353.76 541.40V543.20M355.95 541.40V543.20M357.84 541.40V543.20M359.51 541.40V543.20M361.00 541.40V544.40"/>
<text class="yl" transform="translate(225.00 542.87) rotate(-90.00)" textLength="3.71" lengthAdjust="spacingAndGlyphs">0</text><text class="yl" transform="translate(225.00 524.45) rotate(-90.00)" textLength="7.42" lengthAdjust="spacingAndGlyphs">20</text><text class="yl" transform="translate(225.00 503.97) rotate(-90.00)" textLength="7.20" lengthAdjust="spacingAndGlyphs">40</text><text class="yl" transform="translate(225.00 483.89) rotate(-90.00)" textLength="7.42" lengthAdjust="spacingAndGlyphs">60</text><text class="yl" transform="translate(225.00 463.54) rotate(-90.00)" textLength="7.34" lengthAdjust="spacingAndGlyphs">80</text><text class="yl" transform="translate(225.00 444.90) rotate(-90.00)" textLength="10.33" lengthAdjust="spacingAndGlyphs">100</text>
<text class="xl" x="225.34" y="552.40" textLength="6.40" lengthAdjust="spacingAndGlyphs">10</text><text class="xs" x="231.96" y="548.00" textLength="3.36" lengthAdjust="spacingAndGlyphs">0</text><text class="xl" x="257.96" y="552.40" textLength="6.40" lengthAdjust="spacingAndGlyphs">10</text><text class="xs" x="264.58" y="548.00" textLength="1.68" lengthAdjust="spacingAndGlyphs">1</text><text class="xl" x="290.59" y="552.40" textLength="6.40" lengthAdjust="spacingAndGlyphs">10</text><text class="xs" x="297.13" y="548.00" textLength="3.51" lengthAdjust="spacingAndGlyphs">2</text><text class="xl" x="323.21" y="552.40" textLength="6.40" lengthAdjust="spacingAndGlyphs">10</text><text class="xs" x="329.83" y="548.00" textLength="3.43" lengthAdjust="spacingAndGlyphs">3</text><text class="xl" x="355.84" y="552.40" textLength="6.40" lengthAdjust="spacingAndGlyphs">10</text><text class="xs" x="362.59" y="548.00" textLength="3.16" lengthAdjust="spacingAndGlyphs">4</text>
<path class="gate" d="M275.70 482.50H361.00"/><path class="gtk" d="M275.70 476.60V488.90"/>
<polygon class="h" points="400.00,540.80 400.00,540.80 400.55,540.61 401.10,540.42 401.65,540.24 402.20,540.05 402.75,539.64 403.30,539.34 403.85,539.00 404.40,539.57 404.95,538.74 405.50,539.58 406.05,539.16 406.60,538.42 407.15,539.03 407.70,538.11 408.25,538.42 408.80,537.76 409.35,538.53 409.90,538.56 410.45,538.44 411.00,536.97 411.55,538.04 412.10,537.43 412.65,537.68 413.20,537.00 413.75,537.03 414.30,536.82 414.85,537.00 415.40,535.56 415.95,535.33 416.50,535.97 417.05,534.81 417.60,534.36 418.15,532.78 418.70,533.90 419.25,531.39 419.80,533.03 420.35,533.40 420.90,532.89 421.45,532.48 422.00,534.18 422.55,533.57 423.10,534.50 423.65,534.25 424.20,536.36 424.75,535.57 425.30,535.26 425.85,534.83 426.40,536.13 426.95,536.42 427.50,536.48 428.05,535.15 428.60,535.72 429.15,535.67 429.70,536.58 430.25,535.53 430.80,536.43 431.35,537.16 431.90,536.85 432.45,535.58 433.00,535.77 433.55,535.87 434.10,536.90 434.65,536.76 435.20,536.66 435.75,536.58 436.30,536.53 436.85,536.90 437.40,536.99 437.95,537.47 438.50,537.19 439.05,537.33 439.60,537.54 440.15,537.45 440.70,537.28 441.25,536.19 441.80,537.28 442.35,537.58 442.90,536.93 443.45,537.68 444.00,536.59 444.55,537.80 445.10,537.01 445.65,537.43 446.20,536.71 446.75,536.78 447.30,536.86 447.85,536.82 448.40,536.46 448.95,537.01 449.50,537.86 450.05,537.34 450.60,537.79 451.15,537.52 451.70,537.63 452.25,537.88 452.80,537.44 453.35,536.49 453.90,536.26 454.45,536.36 455.00,535.49 455.55,535.67 456.10,536.70 456.65,536.61 457.20,535.30 457.75,536.00 458.30,535.84 458.85,535.92 459.40,535.70 459.95,535.39 460.50,534.78 461.05,536.41 461.60,535.68 462.15,536.32 462.70,535.41 463.25,535.32 463.80,535.82 464.35,533.65 464.90,534.06 465.45,533.93 466.00,533.15 466.55,533.49 467.10,531.42 467.65,532.04 468.20,530.76 468.75,530.79 469.30,527.81 469.85,527.25 470.40,526.35 470.95,526.86 471.50,523.44 472.05,523.00 472.60,523.40 473.15,523.32 473.70,520.41 474.25,520.30 474.80,520.15 475.35,519.37 475.90,517.44 476.45,515.26 477.00,511.75 477.55,509.57 478.10,506.88 478.65,506.60 479.20,503.34 479.75,501.16 480.30,501.11 480.85,501.92 481.40,503.44 481.95,503.31 482.50,502.42 483.05,501.96 483.60,500.42 484.15,499.27 484.70,498.76 485.25,498.90 485.80,501.02 486.35,501.51 486.90,500.78 487.45,501.12 488.00,502.30 488.55,504.13 489.10,505.41 489.65,509.06 490.20,510.87 490.75,514.38 491.30,518.41 491.85,520.07 492.40,522.18 492.95,522.93 493.50,523.63 494.05,520.76 494.60,526.22 495.15,528.22 495.70,530.88 496.25,530.19 496.80,533.65 497.35,533.34 497.90,535.78 498.45,536.66 499.00,537.47 499.55,538.01 500.10,538.55 500.65,539.04 501.20,540.03 501.75,539.58 502.30,540.16 502.85,540.43 503.00,540.80"/>
<polygon class="h" points="385.50,540.80 385.50,539.60 386.40,540.10 387.30,539.20 388.20,540.50 389.10,540.30 390.00,539.90 390.90,539.60 391.80,540.10 392.70,540.20 393.60,540.10 394.50,539.60 395.40,540.10 396.30,540.30 397.20,540.10 398.10,540.40 399.00,540.50 399.90,539.90 400.80,540.40 401.70,539.90 402.60,540.00 403.50,540.50 404.40,540.40 405.30,539.90 406.20,540.00 407.10,540.30 408.00,539.20 408.90,540.30 409.80,540.10 410.70,540.40 411.60,540.30 412.50,539.60 413.40,540.00 414.30,540.20 415.20,540.30 416.10,540.00 417.00,540.40 417.90,540.40 418.80,539.90 419.70,540.20 420.60,540.30 421.50,540.00 422.40,540.00 423.30,540.10 424.20,539.20 425.10,540.30 426.00,540.20 426.90,539.20 427.80,540.10 428.70,540.50 429.60,540.50 430.50,539.90 431.40,540.10 432.30,540.10 433.20,540.20 434.10,540.20 435.00,540.10 435.90,540.50 436.80,540.30 437.70,540.50 438.60,540.10 439.50,539.60 440.40,539.90 441.30,540.40 442.20,540.10 443.10,539.20 444.00,540.00 444.90,540.00 445.80,539.90 446.70,539.90 447.60,540.00 448.50,540.00 449.40,540.20 450.30,540.10 451.20,540.50 452.10,540.10 453.00,540.50 453.90,539.60 454.80,540.00 455.70,540.40 456.60,539.90 457.50,539.60 458.40,540.10 459.30,540.10 460.20,540.50 461.10,540.40 462.00,540.00 462.90,539.60 463.80,539.90 464.70,539.60 465.60,540.40 466.50,540.40 467.40,540.30 468.30,539.60 469.20,540.10 470.10,540.40 471.00,540.40 471.90,540.30 472.80,540.00 473.70,540.20 474.60,539.90 475.50,539.60 476.40,540.10 477.30,539.60 478.20,540.40 479.10,539.60 480.00,540.30 480.90,540.50 481.80,540.00 482.70,540.20 483.60,540.50 484.50,540.20 485.40,540.10 486.30,540.20 487.20,539.90 488.10,540.30 489.00,539.90 489.90,540.40 490.80,539.90 491.70,540.20 492.60,540.00 493.50,540.10 494.40,539.90 495.30,540.30 496.20,540.10 497.10,540.40 498.00,540.00 498.90,540.20 499.80,540.20 500.70,540.40 501.60,540.00 502.50,540.10 503.40,540.30 504.30,539.60 505.20,539.90 506.10,539.90 507.00,539.60 507.90,540.10 508.80,540.00 509.70,540.50 510.60,540.50 511.00,540.80"/>
<rect class="box" x="385.50" y="443.50" width="126.00" height="97.00"/>
<path class="tk" d="M381.40 540.80H385.00M383.00 536.91H385.00M383.00 533.02H385.00M383.00 529.14H385.00M383.00 525.25H385.00M381.40 521.36H385.00M383.00 517.47H385.00M383.00 513.58H385.00M383.00 509.70H385.00M383.00 505.81H385.00M381.40 501.92H385.00M383.00 498.03H385.00M383.00 494.14H385.00M383.00 490.26H385.00M383.00 486.37H385.00M381.40 482.48H385.00M383.00 478.59H385.00M383.00 474.70H385.00M383.00 470.82H385.00M383.00 466.93H385.00M381.40 463.04H385.00M383.00 459.15H385.00M383.00 455.26H385.00M383.00 451.38H385.00M383.00 447.49H385.00M381.40 443.60H385.00M385.00 540.80V543.80M394.52 540.80V542.60M400.09 540.80V542.60M404.04 540.80V542.60M407.10 540.80V542.60M409.61 540.80V542.60M411.73 540.80V542.60M413.56 540.80V542.60M415.18 540.80V542.60M416.62 540.80V543.80M426.15 540.80V542.60M431.71 540.80V542.60M435.67 540.80V542.60M438.73 540.80V542.60M441.23 540.80V542.60M443.35 540.80V542.60M445.19 540.80V542.60M446.80 540.80V542.60M448.25 540.80V543.80M457.77 540.80V542.60M463.34 540.80V542.60M467.29 540.80V542.60M470.35 540.80V542.60M472.86 540.80V542.60M474.98 540.80V542.60M476.81 540.80V542.60M478.43 540.80V542.60M479.88 540.80V543.80M489.40 540.80V542.60M494.96 540.80V542.60M498.92 540.80V542.60M501.98 540.80V542.60M504.48 540.80V542.60M506.60 540.80V542.60M508.44 540.80V542.60M510.05 540.80V542.60M511.50 540.80V543.80"/>
<text class="yl" transform="translate(379.50 542.27) rotate(-90.00)" textLength="3.71" lengthAdjust="spacingAndGlyphs">0</text><text class="yl" transform="translate(379.50 524.69) rotate(-90.00)" textLength="7.42" lengthAdjust="spacingAndGlyphs">20</text><text class="yl" transform="translate(379.50 505.05) rotate(-90.00)" textLength="7.20" lengthAdjust="spacingAndGlyphs">40</text><text class="yl" transform="translate(379.50 485.81) rotate(-90.00)" textLength="7.42" lengthAdjust="spacingAndGlyphs">60</text><text class="yl" transform="translate(379.50 466.30) rotate(-90.00)" textLength="7.34" lengthAdjust="spacingAndGlyphs">80</text><text class="yl" transform="translate(379.50 448.50) rotate(-90.00)" textLength="10.33" lengthAdjust="spacingAndGlyphs">100</text>
<text class="xl" x="379.84" y="551.80" textLength="6.40" lengthAdjust="spacingAndGlyphs">10</text><text class="xs" x="386.46" y="547.40" textLength="3.36" lengthAdjust="spacingAndGlyphs">0</text><text class="xl" x="411.46" y="551.80" textLength="6.40" lengthAdjust="spacingAndGlyphs">10</text><text class="xs" x="418.08" y="547.40" textLength="1.68" lengthAdjust="spacingAndGlyphs">1</text><text class="xl" x="443.09" y="551.80" textLength="6.40" lengthAdjust="spacingAndGlyphs">10</text><text class="xs" x="449.63" y="547.40" textLength="3.51" lengthAdjust="spacingAndGlyphs">2</text><text class="xl" x="474.71" y="551.80" textLength="6.40" lengthAdjust="spacingAndGlyphs">10</text><text class="xs" x="481.33" y="547.40" textLength="3.43" lengthAdjust="spacingAndGlyphs">3</text><text class="xl" x="506.34" y="551.80" textLength="6.40" lengthAdjust="spacingAndGlyphs">10</text><text class="xs" x="513.09" y="547.40" textLength="3.16" lengthAdjust="spacingAndGlyphs">4</text>
<path class="gate" d="M449.40 484.50H511.50"/><path class="gtk" d="M449.40 478.40V491.00"/>
<text class="hd" x="123.84" y="13.60" textLength="40.60" lengthAdjust="spacingAndGlyphs">Day 1</text>
<text class="hd" x="272.73" y="14.00" textLength="42.69" lengthAdjust="spacingAndGlyphs">Day 3</text>
<text class="hd" x="433.69" y="13.80" textLength="42.45" lengthAdjust="spacingAndGlyphs">Day 4</text>
<text class="hd" x="256.38" y="592.50" textLength="39.05" lengthAdjust="spacingAndGlyphs">BrdU</text>
<text class="cd" transform="translate(44.70 88.72) rotate(-90.00)" textLength="30.83" lengthAdjust="spacingAndGlyphs">CD4</text>
<text class="cd" transform="translate(44.20 212.53) rotate(-90.00)" textLength="31.62" lengthAdjust="spacingAndGlyphs">CD8</text>
<text class="cd" transform="translate(43.45 372.51) rotate(-90.00)" textLength="30.72" lengthAdjust="spacingAndGlyphs">CD4</text>
<text class="cd" transform="translate(42.70 497.53) rotate(-90.00)" textLength="31.62" lengthAdjust="spacingAndGlyphs">CD8</text>
<text class="pop" transform="translate(18.60 232.08) rotate(-89.88)" textLength="194.53" lengthAdjust="spacingAndGlyphs">Small cell population (R1)</text>
<text class="pop" transform="translate(16.30 517.11) rotate(-89.50)" textLength="194.38" lengthAdjust="spacingAndGlyphs">Large cell population (R2)</text>
<text class="pct" x="147.42" y="63.40" textLength="34.19" lengthAdjust="spacingAndGlyphs">0.08%</text>
<text class="pct" x="301.76" y="63.60" textLength="34.45" lengthAdjust="spacingAndGlyphs">0.07%</text>
<text class="pct" x="463.54" y="65.90" textLength="33.66" lengthAdjust="spacingAndGlyphs">1.04%</text>
<text class="pct" x="147.02" y="194.40" textLength="33.68" lengthAdjust="spacingAndGlyphs">0.10%</text>
<text class="pct" x="301.77" y="191.90" textLength="34.14" lengthAdjust="spacingAndGlyphs">0.04%</text>
<text class="pct" x="463.52" y="197.40" textLength="33.98" lengthAdjust="spacingAndGlyphs">0.34%</text>
<text class="pct" x="151.66" y="351.00" textLength="33.84" lengthAdjust="spacingAndGlyphs">3.07%</text>
<text class="pct" x="305.98" y="351.50" textLength="40.04" lengthAdjust="spacingAndGlyphs">11.14%</text>
<text class="pct" x="462.56" y="355.50" textLength="40.52" lengthAdjust="spacingAndGlyphs">39.82%</text>
<text class="pct" x="150.77" y="481.90" textLength="33.93" lengthAdjust="spacingAndGlyphs">0.79%</text>
<text class="pct" x="305.76" y="480.20" textLength="40.31" lengthAdjust="spacingAndGlyphs">39.89%</text>
<text class="pct" x="461.52" y="482.40" textLength="40.56" lengthAdjust="spacingAndGlyphs">92.04%</text>
<path class="ar" d="M50.55 40.40L50.10 120.60"/>
<path class="ah" d="M50.60 31.00L55.40 40.40L46.00 40.40Z"/>
<path class="ar" d="M49.90 165.80L49.70 245.40"/>
<path class="ah" d="M50.20 156.50L54.80 165.80L45.40 165.80Z"/>
<path class="ar" d="M49.15 326.00L48.70 405.40"/>
<path class="ah" d="M49.35 316.70L54.00 326.00L44.35 326.00Z"/>
<path class="ar" d="M48.10 450.80L47.80 530.60"/>
<path class="ah" d="M48.40 441.20L53.00 450.80L43.60 450.80Z"/>
<path class="ar2" d="M107.1 572.6H463"/>
<path class="ah" d="M471.8 572.9L462.1 568.3L462.1 577.8Z"/>
</svg>
</body></html>
